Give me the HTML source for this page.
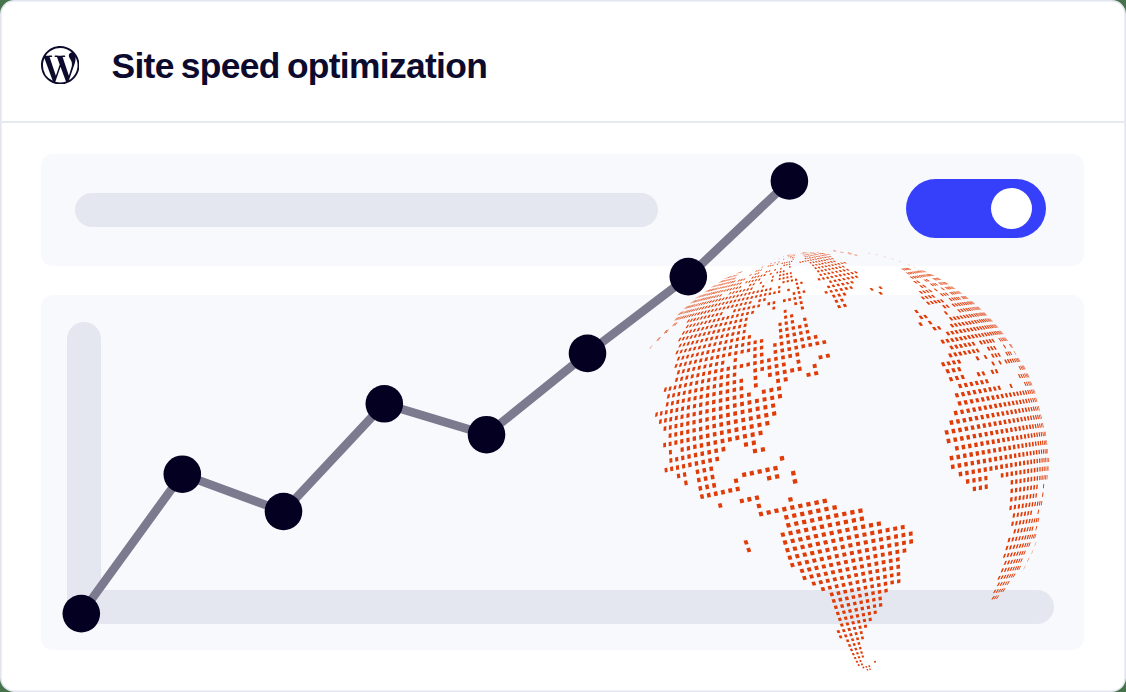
<!DOCTYPE html>
<html><head><meta charset="utf-8">
<style>
html,body{margin:0;padding:0;}
body{width:1126px;height:692px;overflow:hidden;background:#47734c;font-family:"Liberation Sans",sans-serif;position:relative;}
.abs{position:absolute;}
.divider{left:0;top:121px;width:1126px;height:2px;background:#e7e9f1;}
.panel{background:#f8f9fd;border-radius:12px;}
.bar{background:#e4e7f0;border-radius:17px;}
.title{left:111.5px;top:43.5px;font-size:35.4px;line-height:44px;font-weight:bold;color:#0d0b2d;white-space:nowrap;letter-spacing:-0.68px;word-spacing:-2px;}
</style></head>
<body>
<svg class="abs" style="left:0;top:0" width="1126" height="692" viewBox="0 0 1126 692"><rect x="0.8" y="0.8" width="1124.4" height="690.4" rx="13.4" fill="#fff" stroke="#e2e5ef" stroke-width="1.6"/></svg>
<svg class="abs" style="left:40.9px;top:45.7px" width="38.5" height="38.5" viewBox="0 0 24 24"><path fill="#0d0b2d" d="M21.469 6.825c.84 1.537 1.318 3.3 1.318 5.175 0 3.979-2.156 7.456-5.363 9.325l3.295-9.527c.615-1.54.82-2.771.82-3.864 0-.405-.026-.78-.07-1.11m-7.981.105c.647-.03 1.232-.105 1.232-.105.582-.075.514-.93-.067-.899 0 0-1.755.135-2.88.135-1.064 0-2.85-.15-2.85-.15-.585-.03-.661.855-.075.885 0 0 .54.061 1.125.09l1.68 4.605-2.37 7.08L5.354 6.9c.649-.03 1.234-.1 1.234-.1.585-.075.516-.93-.065-.896 0 0-1.746.138-2.874.138-.2 0-.438-.008-.69-.015C4.911 3.15 8.235 1.215 12 1.215c2.809 0 5.365 1.072 7.286 2.833-.046-.003-.091-.009-.141-.009-1.06 0-1.812.923-1.812 1.914 0 .89.513 1.643 1.06 2.531.411.72.89 1.643.89 2.977 0 .915-.354 1.994-.821 3.479l-1.075 3.585-3.9-11.61zM12 22.784c-1.059 0-2.081-.153-3.048-.437l3.237-9.406 3.315 9.087q.036.078.078.149c-1.12.393-2.325.609-3.582.609M1.211 12c0-1.564.336-3.05.935-4.39L7.290 21.709A10.790 10.790 0 0 1 1.211 12M12 0C5.385 0 0 5.385 0 12s5.385 12 12 12 12-5.385 12-12S18.615 0 12 0"/></svg>
<div class="abs title">Site speed optimization</div>
<div class="abs divider"></div>
<div class="abs panel" style="left:41px;top:154px;width:1043px;height:112px"></div>
<div class="abs bar" style="left:74.5px;top:193px;width:583.5px;height:34px"></div>
<div class="abs" style="left:906px;top:179px;width:139.5px;height:58.5px;border-radius:30px;background:#3640fb"></div>
<div class="abs" style="left:990.7px;top:188.2px;width:41px;height:41px;border-radius:50%;background:#fff"></div>
<div class="abs panel" style="left:41px;top:295px;width:1043px;height:355.3px"></div>
<div class="abs bar" style="left:67px;top:321.6px;width:34px;height:302px"></div>
<div class="abs bar" style="left:67px;top:590px;width:987px;height:33.6px"></div>
<svg class="abs" style="left:0;top:0" width="1126" height="692" viewBox="0 0 1126 692">
<polyline fill="none" stroke="#7b7a8f" stroke-width="8.6" stroke-linejoin="round" points="81.3,613.6 182.3,474.2 283.5,511.5 384.3,403.8 486.5,434.7 587.5,353.4 688.3,276.6 789.4,181"/>
<g fill="#040021">
<circle cx="81.3" cy="613.6" r="18.8"/><circle cx="182.3" cy="474.2" r="18.8"/><circle cx="283.5" cy="511.5" r="18.8"/><circle cx="384.3" cy="403.8" r="18.8"/><circle cx="486.5" cy="434.7" r="18.8"/><circle cx="587.5" cy="353.4" r="18.8"/><circle cx="688.3" cy="276.6" r="18.8"/><circle cx="789.4" cy="181" r="18.8"/>
</g>
<path d="M833 250.2l3.2 .7M840.3 251.9l3.2 .7M847.8 253.5l3.4 .8M854.6 255.1l2.8 .7" stroke="#e03c08" stroke-width="0.7" opacity=".55" fill="none"/>
<path d="M868 253l2.4 .5M875.3 254.5l2.4 .6M883.8 256.5l2.4 .7M891.2 258.5l2.4 .8M898.8 261.1l2.4 .9M907.8 264.2l2.4 1M913.6 267l2 .9" stroke="#e03c08" stroke-width="0.6" opacity=".3" fill="none"/>
<path id="globe" fill="#e03c08" d="M779.5 456.6L783.7 455.8L784.5 460.1L780.3 460.9ZM741.8 473.0L745.8 472.1L746.6 476.5L742.6 477.3ZM749.4 471.4L753.4 470.5L754.3 474.9L750.2 475.7ZM757.2 469.8L761.3 468.9L762.1 473.2L758.0 474.1ZM765.1 468.1L769.2 467.3L770.0 471.6L765.9 472.5ZM773.0 466.5L777.2 465.7L778.0 470.0L773.8 470.8ZM766.6 476.4L770.8 475.5L771.6 479.8L767.5 480.7ZM774.6 474.7L778.8 473.9L779.6 478.2L775.5 479.1ZM790.8 471.4L795.0 470.6L795.9 474.9L791.6 475.8ZM792.4 479.7L796.7 478.8L797.6 483.1L793.3 484.0ZM717.9 503.7L721.5 503.0L722.6 507.2L718.9 508.0ZM739.4 499.2L743.3 498.4L744.3 502.6L740.4 503.5ZM746.9 497.6L750.8 496.8L751.8 501.1L747.9 501.9ZM754.5 496.0L758.5 495.2L759.5 499.5L755.5 500.3ZM756.4 504.2L760.4 503.4L761.5 507.6L757.5 508.4ZM787.9 497.7L792.1 496.9L793.0 501.1L788.9 502.0ZM758.5 512.3L762.4 511.5L763.5 515.7L759.6 516.5ZM766.1 510.7L770.2 509.9L771.2 514.1L767.2 514.9ZM773.9 509.1L778.0 508.2L779.0 512.5L775.0 513.3ZM781.8 507.5L785.9 506.6L786.9 510.9L782.8 511.7ZM789.8 505.8L793.9 505.0L794.9 509.2L790.8 510.1ZM797.8 504.2L802.0 503.4L802.9 507.6L798.8 508.5ZM805.9 502.6L810.1 501.7L811.0 506.0L806.8 506.8ZM814.0 500.9L818.3 500.1L819.2 504.3L814.9 505.2ZM822.2 499.3L826.5 498.4L827.3 502.7L823.1 503.5ZM783.8 515.5L787.9 514.7L788.9 518.9L784.9 519.7ZM791.7 513.9L795.8 513.1L796.8 517.3L792.7 518.1ZM799.7 512.3L803.8 511.4L804.8 515.7L800.7 516.5ZM807.7 510.7L811.9 509.8L812.9 514.0L808.7 514.9ZM815.8 509.0L820.0 508.2L820.9 512.4L816.7 513.3ZM823.9 507.4L828.1 506.6L829.0 510.8L824.8 511.6ZM832.1 505.8L836.3 504.9L837.2 509.2L832.9 510.0ZM785.8 523.5L789.9 522.7L791.0 526.9L787.0 527.7ZM793.7 521.9L797.8 521.1L798.8 525.3L794.8 526.1ZM801.6 520.3L805.7 519.5L806.7 523.7L802.6 524.5ZM809.6 518.7L813.7 517.9L814.7 522.0L810.6 522.9ZM817.6 517.1L821.8 516.2L822.7 520.4L818.5 521.3ZM825.7 515.5L829.8 514.6L830.7 518.8L826.6 519.7ZM833.7 513.8L837.9 513.0L838.8 517.2L834.6 518.1ZM841.8 512.2L846.0 511.4L846.8 515.6L842.7 516.4ZM849.9 510.6L854.1 509.8L854.9 514.0L850.7 514.9ZM858.0 509.0L862.2 508.2L862.9 512.4L858.7 513.3ZM743.5 540.7L747.2 539.9L748.6 544.0L744.9 544.7ZM780.3 533.0L784.3 532.2L785.4 536.3L781.5 537.1ZM788.0 531.4L792.0 530.6L793.1 534.7L789.1 535.6ZM795.7 529.9L799.8 529.0L800.9 533.2L796.8 534.0ZM803.6 528.3L807.7 527.4L808.7 531.6L804.6 532.4ZM811.5 526.7L815.6 525.8L816.6 530.0L812.5 530.8ZM819.4 525.1L823.6 524.2L824.5 528.4L820.4 529.2ZM827.4 523.5L831.5 522.6L832.4 526.8L828.3 527.6ZM835.4 521.9L839.6 521.0L840.4 525.2L836.3 526.0ZM843.4 520.3L847.6 519.4L848.4 523.6L844.2 524.4ZM851.4 518.7L855.6 517.8L856.3 522.0L852.2 522.9ZM859.4 517.1L863.6 516.3L864.3 520.5L860.2 521.3ZM746.2 548.4L749.9 547.6L751.3 551.6L747.7 552.4ZM782.6 540.8L786.5 540.0L787.7 544.1L783.8 544.9ZM790.2 539.3L794.1 538.4L795.3 542.5L791.3 543.3ZM797.8 537.7L801.9 536.9L803.0 540.9L799.0 541.8ZM805.6 536.1L809.6 535.3L810.7 539.4L806.7 540.2ZM813.4 534.5L817.5 533.7L818.5 537.8L814.4 538.6ZM821.3 532.9L825.3 532.1L826.3 536.2L822.2 537.0ZM829.1 531.4L833.2 530.5L834.1 534.7L830.1 535.5ZM837.0 529.8L841.2 529.0L842.0 533.1L837.9 533.9ZM845.0 528.2L849.1 527.4L849.9 531.5L845.8 532.3ZM852.9 526.6L857.0 525.8L857.7 530.0L853.7 530.8ZM860.8 525.1L864.9 524.3L865.6 528.4L861.5 529.2ZM868.7 523.5L872.8 522.7L873.4 526.9L869.3 527.7ZM876.5 522.0L880.6 521.2L881.2 525.4L877.1 526.2ZM784.9 548.5L788.8 547.7L790.0 551.7L786.2 552.5ZM792.4 547.0L796.4 546.2L797.5 550.2L793.6 551.0ZM800.0 545.4L804.0 544.6L805.1 548.6L801.2 549.4ZM807.6 543.9L811.6 543.1L812.7 547.1L808.7 547.9ZM815.4 542.3L819.4 541.5L820.4 545.5L816.4 546.3ZM823.1 540.7L827.1 539.9L828.1 544.0L824.1 544.8ZM830.9 539.2L834.9 538.4L835.8 542.4L831.8 543.2ZM838.7 537.6L842.8 536.8L843.6 540.9L839.6 541.7ZM846.5 536.1L850.6 535.3L851.4 539.3L847.3 540.1ZM854.3 534.5L858.4 533.7L859.1 537.8L855.1 538.6ZM862.1 533.0L866.2 532.2L866.8 536.3L862.8 537.1ZM869.9 531.4L874.0 530.6L874.6 534.8L870.6 535.6ZM877.7 529.9L881.7 529.1L882.2 533.3L878.2 534.0ZM885.4 528.4L889.3 527.6L889.8 531.8L885.9 532.6ZM893.0 526.9L897.0 526.2L897.4 530.3L893.5 531.1ZM900.6 525.5L904.5 524.7L904.8 528.9L901.0 529.6ZM787.4 556.1L791.2 555.3L792.4 559.2L788.6 560.0ZM794.7 554.6L798.6 553.8L799.8 557.7L796.0 558.5ZM802.2 553.0L806.1 552.2L807.3 556.2L803.4 557.0ZM809.7 551.5L813.7 550.7L814.8 554.7L810.8 555.5ZM817.3 550.0L821.3 549.2L822.3 553.1L818.4 553.9ZM825.0 548.4L829.0 547.6L829.9 551.6L826.0 552.4ZM832.6 546.9L836.6 546.1L837.5 550.1L833.6 550.9ZM840.3 545.4L844.3 544.6L845.2 548.6L841.2 549.4ZM848.0 543.8L852.0 543.0L852.8 547.0L848.8 547.8ZM855.7 542.3L859.7 541.5L860.4 545.5L856.5 546.3ZM863.4 540.8L867.4 540.0L868.1 544.0L864.1 544.8ZM871.1 539.3L875.1 538.5L875.6 542.5L871.7 543.3ZM878.7 537.8L882.7 537.0L883.2 541.1L879.3 541.8ZM886.3 536.3L890.2 535.5L890.7 539.6L886.8 540.4ZM893.9 534.8L897.7 534.1L898.1 538.2L894.3 538.9ZM901.3 533.4L905.2 532.6L905.5 536.8L901.7 537.5ZM908.7 532.0L912.5 531.2L912.7 535.4L909.0 536.1ZM789.8 563.5L793.6 562.8L794.9 566.6L791.2 567.4ZM797.1 562.0L800.9 561.3L802.1 565.1L798.4 565.9ZM804.5 560.5L808.3 559.8L809.5 563.6L805.6 564.4ZM811.9 559.0L815.7 558.2L816.8 562.1L813.0 562.9ZM819.3 557.5L823.2 556.7L824.2 560.6L820.4 561.4ZM826.8 556.0L830.8 555.2L831.7 559.1L827.8 559.9ZM834.4 554.5L838.3 553.7L839.2 557.6L835.3 558.4ZM842.0 553.0L845.9 552.2L846.7 556.1L842.8 556.9ZM849.5 551.5L853.5 550.7L854.2 554.6L850.3 555.4ZM857.1 550.0L861.1 549.2L861.7 553.2L857.8 553.9ZM864.7 548.5L868.6 547.7L869.2 551.7L865.3 552.4ZM872.2 547.0L876.1 546.2L876.7 550.2L872.8 551.0ZM879.7 545.5L883.6 544.7L884.1 548.8L880.2 549.5ZM887.2 544.1L891.1 543.3L891.4 547.3L887.6 548.1ZM894.6 542.6L898.4 541.9L898.7 545.9L895.0 546.7ZM901.9 541.2L905.7 540.5L906.0 544.5L902.2 545.3ZM909.2 539.8L912.9 539.1L913.1 543.2L909.4 543.9ZM799.5 569.4L803.3 568.6L804.5 572.4L800.8 573.1ZM806.7 567.9L810.5 567.1L811.7 570.9L808.0 571.7ZM814.0 566.4L817.8 565.6L818.9 569.5L815.2 570.2ZM821.4 564.9L825.2 564.2L826.2 568.0L822.4 568.8ZM828.7 563.4L832.6 562.7L833.5 566.5L829.7 567.3ZM836.1 561.9L840.0 561.2L840.9 565.0L837.1 565.8ZM843.6 560.5L847.4 559.7L848.2 563.6L844.4 564.3ZM851.0 559.0L854.9 558.2L855.6 562.1L851.8 562.9ZM858.5 557.5L862.3 556.7L863.0 560.7L859.1 561.4ZM865.9 556.0L869.7 555.3L870.3 559.2L866.5 560.0ZM873.3 554.6L877.1 553.8L877.6 557.8L873.8 558.5ZM880.7 553.1L884.5 552.4L884.9 556.3L881.1 557.1ZM888.0 551.7L891.8 551.0L892.1 554.9L888.4 555.7ZM895.3 550.3L899.0 549.6L899.3 553.6L895.6 554.3ZM902.5 548.9L906.2 548.2L906.4 552.2L902.7 552.9ZM802.0 576.5L805.7 575.8L806.9 579.5L803.3 580.2ZM809.1 575.1L812.8 574.3L814.0 578.1L810.3 578.8ZM816.2 573.6L819.9 572.9L821.0 576.6L817.3 577.4ZM823.4 572.2L827.1 571.4L828.2 575.2L824.5 575.9ZM830.6 570.7L834.4 570.0L835.3 573.7L831.6 574.5ZM837.9 569.3L841.7 568.5L842.5 572.3L838.8 573.1ZM845.2 567.8L849.0 567.1L849.7 570.9L846.0 571.6ZM852.5 566.4L856.2 565.6L857.0 569.4L853.2 570.2ZM859.8 564.9L863.5 564.2L864.2 568.0L860.4 568.7ZM867.0 563.5L870.8 562.7L871.3 566.6L867.6 567.3ZM874.3 562.0L878.1 561.3L878.5 565.2L874.8 565.9ZM881.5 560.6L885.3 559.9L885.6 563.8L881.9 564.5ZM888.7 559.2L892.4 558.5L892.7 562.4L889.0 563.1ZM895.8 557.9L899.5 557.1L899.7 561.1L896.1 561.8ZM811.4 582.1L815.0 581.4L816.2 585.0L812.7 585.8ZM818.4 580.7L822.0 580.0L823.2 583.6L819.6 584.4ZM825.4 579.3L829.1 578.6L830.1 582.2L826.5 583.0ZM832.5 577.9L836.2 577.1L837.1 580.8L833.5 581.6ZM839.6 576.4L843.3 575.7L844.2 579.4L840.5 580.1ZM846.7 575.0L850.4 574.3L851.2 578.0L847.6 578.7ZM853.9 573.6L857.6 572.9L858.3 576.6L854.6 577.3ZM861.0 572.2L864.7 571.5L865.3 575.2L861.6 575.9ZM868.1 570.8L871.8 570.1L872.3 573.8L868.7 574.5ZM875.2 569.4L878.9 568.7L879.3 572.5L875.7 573.2ZM882.3 568.0L886.0 567.3L886.3 571.1L882.7 571.8ZM889.3 566.6L893.0 565.9L893.2 569.8L889.6 570.4ZM896.3 565.3L899.9 564.6L900.1 568.4L896.5 569.1ZM820.6 587.6L824.2 586.9L825.3 590.5L821.8 591.2ZM827.5 586.3L831.1 585.5L832.1 589.1L828.6 589.8ZM834.4 584.9L838.0 584.1L838.9 587.7L835.4 588.4ZM841.3 583.5L844.9 582.7L845.8 586.4L842.2 587.1ZM848.3 582.1L851.9 581.4L852.7 585.0L849.1 585.7ZM855.3 580.7L858.9 580.0L859.5 583.6L856.0 584.3ZM862.2 579.3L865.8 578.6L866.4 582.3L862.8 583.0ZM869.2 577.9L872.8 577.2L873.3 580.9L869.7 581.6ZM876.1 576.6L879.7 575.9L880.1 579.6L876.5 580.3ZM883.0 575.2L886.6 574.5L886.9 578.2L883.4 578.9ZM889.9 573.9L893.4 573.2L893.6 576.9L890.1 577.6ZM896.7 572.6L900.2 571.9L900.3 575.6L896.8 576.3ZM829.5 593.0L833.0 592.3L834.1 595.8L830.6 596.5ZM836.3 591.7L839.8 591.0L840.7 594.5L837.3 595.2ZM843.0 590.3L846.6 589.6L847.4 593.1L843.9 593.8ZM849.8 589.0L853.3 588.2L854.1 591.8L850.6 592.5ZM856.6 587.6L860.1 586.9L860.8 590.5L857.3 591.2ZM863.4 586.3L866.9 585.6L867.4 589.1L864.0 589.8ZM870.2 584.9L873.7 584.2L874.1 587.8L870.7 588.5ZM876.9 583.6L880.4 582.9L880.8 586.5L877.3 587.2ZM883.6 582.3L887.1 581.6L887.4 585.2L883.9 585.9ZM890.3 581.0L893.8 580.3L893.9 584.0L890.5 584.6ZM897.0 579.7L900.4 579.0L900.4 582.7L897.1 583.4ZM831.6 599.6L835.0 598.9L836.0 602.3L832.7 603.0ZM838.2 598.3L841.6 597.6L842.5 601.0L839.1 601.7ZM844.7 597.0L848.1 596.3L849.0 599.7L845.6 600.4ZM851.3 595.7L854.7 595.0L855.5 598.4L852.1 599.1ZM857.9 594.3L861.3 593.7L862.0 597.1L858.6 597.8ZM864.5 593.0L867.9 592.4L868.4 595.8L865.1 596.5ZM871.1 591.7L874.5 591.1L874.9 594.6L871.6 595.2ZM877.7 590.4L881.1 589.8L881.4 593.3L878.0 594.0ZM884.2 589.2L887.6 588.5L887.8 592.0L884.5 592.7ZM833.7 606.0L837.0 605.3L838.0 608.6L834.8 609.3ZM840.0 604.7L843.3 604.1L844.2 607.4L841.0 608.0ZM846.4 603.4L849.7 602.8L850.5 606.1L847.3 606.8ZM852.8 602.2L856.1 601.5L856.8 604.8L853.5 605.5ZM859.2 600.9L862.5 600.2L863.1 603.6L859.8 604.2ZM865.6 599.6L868.9 599.0L869.4 602.4L866.1 603.0ZM872.0 598.4L875.3 597.7L875.6 601.1L872.4 601.8ZM878.3 597.1L881.6 596.5L881.9 599.9L878.7 600.5ZM835.7 612.2L838.9 611.5L839.9 614.7L836.8 615.3ZM841.9 611.0L845.1 610.3L846.0 613.5L842.8 614.1ZM848.0 609.7L851.2 609.1L852.0 612.3L848.9 612.9ZM854.2 608.5L857.4 607.8L858.1 611.1L855.0 611.7ZM860.4 607.2L863.6 606.6L864.2 609.9L861.0 610.5ZM866.6 606.0L869.8 605.4L870.3 608.7L867.1 609.3ZM872.8 604.8L876.0 604.2L876.3 607.5L873.2 608.1ZM878.9 603.6L882.1 603.0L882.4 606.3L879.2 606.9ZM837.8 618.2L840.9 617.5L841.9 620.6L838.9 621.2ZM843.7 617.0L846.8 616.3L847.7 619.4L844.7 620.0ZM849.7 615.8L852.8 615.2L853.5 618.3L850.5 618.9ZM855.6 614.6L858.7 614.0L859.4 617.1L856.3 617.7ZM861.6 613.4L864.7 612.8L865.2 615.9L862.2 616.5ZM867.6 612.2L870.7 611.6L871.1 614.8L868.1 615.4ZM873.5 611.0L876.6 610.4L876.9 613.6L873.9 614.2ZM839.8 623.9L842.8 623.3L843.8 626.3L840.9 626.8ZM845.5 622.8L848.5 622.2L849.4 625.1L846.5 625.7ZM851.3 621.6L854.2 621.0L855.0 624.0L852.1 624.6ZM857.0 620.5L860.0 619.9L860.6 622.9L857.7 623.5ZM862.7 619.3L865.7 618.7L866.2 621.8L863.3 622.3ZM868.5 618.2L871.5 617.6L871.9 620.7L868.9 621.2ZM836.5 630.5L839.3 630.0L840.4 632.7L837.6 633.3ZM841.9 629.4L844.7 628.9L845.7 631.7L842.9 632.2ZM847.3 628.3L850.2 627.8L851.1 630.6L848.3 631.2ZM852.8 627.2L855.7 626.7L856.4 629.5L853.6 630.1ZM858.3 626.1L861.2 625.6L861.8 628.4L859.0 629.0ZM863.8 625.0L866.7 624.5L867.2 627.4L864.4 627.9ZM838.7 635.8L841.4 635.2L842.5 637.9L839.9 638.4ZM843.9 634.7L846.6 634.2L847.6 636.9L845.0 637.4ZM849.1 633.7L851.8 633.1L852.7 635.8L850.0 636.4ZM854.4 632.6L857.1 632.1L857.8 634.8L855.2 635.3ZM859.6 631.6L862.3 631.0L862.9 633.8L860.3 634.3ZM845.9 639.7L848.5 639.2L849.4 641.8L846.9 642.3ZM850.9 638.7L853.5 638.2L854.3 640.8L851.8 641.3ZM855.9 637.7L858.5 637.2L859.2 639.8L856.6 640.3ZM860.9 636.7L863.5 636.2L864.0 638.9L861.5 639.4ZM847.9 644.5L850.3 644.0L851.3 646.4L848.9 646.9ZM852.6 643.6L855.0 643.1L855.9 645.5L853.5 646.0ZM857.3 642.6L859.8 642.1L860.5 644.6L858.1 645.1ZM849.8 649.0L852.1 648.6L853.1 650.9L850.9 651.3ZM854.3 648.1L856.6 647.7L857.4 650.0L855.2 650.4ZM858.8 647.2L861.1 646.8L861.7 649.1L859.5 649.6ZM851.8 653.3L853.9 652.9L854.9 655.0L852.8 655.4ZM855.9 652.5L858.1 652.0L858.9 654.2L856.8 654.6ZM860.1 651.6L862.3 651.2L863.0 653.4L860.9 653.8ZM853.7 657.3L855.7 656.9L856.6 658.8L854.7 659.2ZM857.6 656.5L859.6 656.1L860.4 658.1L858.4 658.5ZM861.5 655.7L863.5 655.3L864.1 657.3L862.2 657.7ZM855.5 661.0L857.4 660.6L858.3 662.4L856.5 662.8ZM859.2 660.2L861.0 659.9L861.8 661.7L860.0 662.1ZM857.4 664.4L859.1 664.0L860.0 665.7L858.3 666.0ZM860.7 663.7L862.4 663.3L863.1 665.1L861.5 665.4ZM874.1 661.0L875.9 660.7L876.0 662.5L874.3 662.8ZM862.2 666.9L863.8 666.6L864.5 668.1L863.0 668.4ZM865.3 666.3L866.8 665.9L867.4 667.5L865.9 667.8ZM868.3 665.6L869.9 665.3L870.3 667.0L868.8 667.3ZM866.4 669.2L867.8 668.9L868.4 670.4L867.0 670.6ZM869.2 668.6L870.6 668.4L871.0 669.8L869.6 670.1ZM787.3 255.1L787.7 255.0L787.3 255.4L786.9 255.5ZM788.0 254.9L788.3 254.8L788.2 255.2L787.7 255.3ZM788.7 254.8L789.0 254.7L789.0 255.0L788.6 255.1ZM789.4 254.6L789.7 254.6L789.9 254.9L789.4 254.9ZM790.0 254.5L790.4 254.4L790.7 254.7L790.3 254.8ZM790.7 254.4L791.1 254.3L791.6 254.5L791.1 254.6ZM775.3 258.2L775.7 258.1L773.5 259.1L773.0 259.2ZM783.6 256.5L784.1 256.4L783.3 257.0L782.7 257.2ZM787.5 255.7L788.0 255.6L787.9 256.1L787.3 256.2ZM788.5 255.5L789.1 255.4L789.1 255.9L788.5 256.0ZM789.5 255.3L790.1 255.2L790.3 255.6L789.7 255.8ZM790.5 255.1L791.1 255.0L791.4 255.4L790.8 255.5ZM791.6 254.9L792.1 254.8L792.6 255.2L792.0 255.3ZM792.6 254.7L793.1 254.6L793.8 254.9L793.2 255.1ZM793.5 254.5L794.1 254.4L794.9 254.7L794.3 254.8ZM794.5 254.3L795.0 254.2L796.1 254.5L795.5 254.6ZM779.3 258.4L780.0 258.2L778.9 259.1L778.2 259.3ZM788.5 256.5L789.1 256.4L789.2 257.0L788.4 257.2ZM789.8 256.3L790.5 256.1L790.7 256.7L789.9 256.9ZM791.1 256.0L791.8 255.9L792.2 256.4L791.4 256.6ZM792.4 255.7L793.1 255.6L793.7 256.1L792.9 256.3ZM793.8 255.5L794.4 255.3L795.2 255.8L794.4 256.0ZM783.5 258.8L784.4 258.7L784.0 259.6L783.0 259.8ZM790.1 257.5L790.9 257.4L791.2 258.1L790.3 258.3ZM791.8 257.2L792.6 257.0L793.0 257.8L792.1 258.0ZM793.4 256.9L794.2 256.7L794.8 257.4L793.9 257.6ZM771.3 263.0L772.2 262.8L770.9 264.1L769.9 264.3ZM775.0 262.3L775.9 262.1L774.9 263.3L773.9 263.5ZM778.8 261.5L779.7 261.3L779.1 262.4L778.0 262.6ZM792.4 258.7L793.4 258.5L793.9 259.4L792.8 259.7ZM739.1 272.0L739.6 271.9L736.2 273.8L735.6 273.9ZM740.2 271.8L740.7 271.6L737.4 273.5L736.8 273.7ZM741.3 271.5L741.9 271.4L738.7 273.2L738.0 273.4ZM742.5 271.2L743.2 271.1L740.0 272.9L739.3 273.1ZM762.4 266.8L763.5 266.6L761.8 268.1L760.7 268.4ZM768.6 265.6L769.7 265.3L768.4 266.8L767.3 267.0ZM770.7 265.1L771.8 264.9L770.7 266.3L769.6 266.5ZM772.9 264.7L774.0 264.4L773.1 265.8L771.9 266.0ZM777.3 263.8L778.4 263.5L777.8 264.8L776.6 265.1ZM781.8 262.9L783.0 262.6L782.6 263.9L781.4 264.1ZM784.1 262.4L785.2 262.2L785.1 263.4L783.8 263.6ZM786.3 261.9L787.5 261.7L787.5 262.9L786.3 263.1ZM788.6 261.5L789.8 261.2L790.0 262.4L788.7 262.6ZM790.9 261.0L792.1 260.8L792.4 261.9L791.2 262.1ZM727.8 276.9L728.2 276.8L724.5 279.0L724.1 279.1ZM728.6 276.7L729.0 276.6L725.4 278.7L724.9 278.9ZM729.4 276.5L729.9 276.4L726.3 278.5L725.8 278.6ZM730.3 276.3L730.8 276.1L727.4 278.2L726.8 278.4ZM731.4 276.0L731.9 275.9L728.5 277.9L727.9 278.1ZM732.5 275.7L733.1 275.6L729.8 277.6L729.1 277.8ZM733.7 275.5L734.4 275.3L731.1 277.3L730.4 277.5ZM735.0 275.1L735.7 275.0L732.5 277.0L731.8 277.2ZM736.4 274.8L737.1 274.6L734.1 276.6L733.3 276.8ZM737.9 274.5L738.7 274.3L735.7 276.3L734.8 276.5ZM756.8 270.3L757.9 270.1L756.1 271.8L754.9 272.1ZM759.0 269.9L760.2 269.6L758.6 271.3L757.3 271.5ZM761.3 269.4L762.5 269.1L761.0 270.8L759.8 271.0ZM783.6 264.8L784.9 264.5L784.8 265.9L783.4 266.2ZM786.2 264.3L787.5 264.0L787.6 265.3L786.2 265.6ZM788.8 263.8L790.1 263.5L790.3 264.8L788.9 265.1ZM799.2 261.7L800.5 261.4L801.3 262.6L799.9 262.9ZM801.8 261.2L803.1 260.9L804.1 262.1L802.7 262.4ZM721.6 280.9L722.1 280.7L718.6 283.0L718.1 283.1ZM722.6 280.6L723.1 280.5L719.6 282.7L719.1 282.9ZM723.6 280.3L724.2 280.2L720.8 282.4L720.2 282.6ZM724.8 280.1L725.4 279.9L722.1 282.1L721.4 282.3ZM726.0 279.8L726.7 279.6L723.5 281.8L722.7 282.0ZM727.4 279.4L728.1 279.3L724.9 281.4L724.2 281.6ZM728.9 279.1L729.6 278.9L726.5 281.1L725.7 281.2ZM730.4 278.7L731.3 278.5L728.2 280.7L727.4 280.9ZM732.1 278.3L733.0 278.1L730.0 280.3L729.1 280.5ZM733.8 277.9L734.8 277.7L731.9 279.8L730.9 280.0ZM735.7 277.5L736.6 277.3L733.9 279.4L732.9 279.6ZM750.8 274.2L752.0 274.0L750.2 275.8L748.9 276.1ZM755.8 273.2L757.1 272.9L755.5 274.7L754.1 275.0ZM758.3 272.6L759.7 272.3L758.2 274.1L756.8 274.4ZM766.3 271.0L767.7 270.7L766.7 272.4L765.2 272.7ZM769.1 270.4L770.5 270.1L769.6 271.8L768.1 272.1ZM774.7 269.2L776.1 269.0L775.6 270.6L774.0 270.9ZM780.4 268.1L781.8 267.8L781.6 269.3L780.0 269.7ZM789.0 266.3L790.5 266.0L790.8 267.5L789.2 267.8ZM714.0 285.5L714.4 285.4L711.0 287.8L710.5 287.9ZM714.9 285.3L715.4 285.1L712.0 287.5L711.4 287.7ZM715.9 285.0L716.5 284.8L713.1 287.2L712.5 287.4ZM717.1 284.7L717.7 284.5L714.4 286.9L713.7 287.1ZM718.4 284.4L719.1 284.2L715.8 286.6L715.1 286.7ZM719.8 284.0L720.5 283.9L717.3 286.2L716.5 286.4ZM721.3 283.7L722.1 283.5L719.0 285.8L718.1 286.0ZM722.9 283.3L723.7 283.1L720.7 285.4L719.8 285.6ZM724.6 282.9L725.5 282.7L722.6 285.0L721.6 285.2ZM726.4 282.5L727.4 282.3L724.5 284.5L723.5 284.7ZM728.3 282.0L729.4 281.8L726.6 284.0L725.6 284.3ZM730.4 281.6L731.5 281.3L728.8 283.6L727.7 283.8ZM732.5 281.1L733.6 280.9L731.1 283.0L729.9 283.3ZM734.7 280.6L735.9 280.4L733.5 282.5L732.2 282.8ZM739.4 279.6L740.7 279.3L738.5 281.4L737.2 281.7ZM741.9 279.0L743.2 278.8L741.1 280.9L739.8 281.1ZM744.5 278.5L745.8 278.2L743.9 280.3L742.5 280.6ZM752.6 276.8L754.0 276.5L752.5 278.4L751.0 278.8ZM755.4 276.2L756.9 275.9L755.5 277.8L753.9 278.1ZM758.3 275.6L759.8 275.3L758.5 277.2L757.0 277.5ZM761.3 275.0L762.8 274.6L761.7 276.5L760.1 276.9ZM764.2 274.3L765.8 274.0L764.8 275.9L763.2 276.2ZM770.4 273.1L771.9 272.7L771.3 274.5L769.6 274.9ZM776.6 271.8L778.2 271.5L777.9 273.2L776.2 273.5ZM779.8 271.2L781.4 270.8L781.2 272.5L779.5 272.9ZM783.0 270.5L784.6 270.2L784.5 271.9L782.8 272.2ZM707.3 290.2L707.8 290.1L704.4 292.6L703.9 292.8ZM708.3 289.9L708.9 289.8L705.6 292.3L705.0 292.5ZM709.5 289.6L710.1 289.5L706.8 292.0L706.1 292.2ZM710.7 289.3L711.4 289.2L708.2 291.7L707.5 291.8ZM712.1 289.0L712.9 288.8L709.7 291.3L708.9 291.5ZM713.6 288.6L714.5 288.4L711.4 290.9L710.5 291.1ZM715.3 288.2L716.2 288.0L713.1 290.5L712.2 290.7ZM717.0 287.8L718.0 287.6L715.1 290.0L714.1 290.3ZM718.9 287.4L719.9 287.1L717.1 289.5L716.0 289.8ZM720.9 286.9L722.0 286.7L719.2 289.1L718.1 289.3ZM723.0 286.4L724.2 286.2L721.5 288.5L720.3 288.8ZM725.3 285.9L726.4 285.7L723.9 288.0L722.6 288.3ZM727.6 285.4L728.8 285.1L726.3 287.5L725.1 287.7ZM730.0 284.9L731.3 284.6L728.9 286.9L727.6 287.2ZM732.5 284.3L733.9 284.0L731.6 286.3L730.2 286.6ZM735.2 283.7L736.5 283.4L734.4 285.7L733.0 286.0ZM737.9 283.1L739.3 282.8L737.3 285.1L735.8 285.4ZM740.7 282.5L742.1 282.2L740.2 284.4L738.7 284.8ZM746.5 281.3L748.0 281.0L746.4 283.1L744.8 283.5ZM749.5 280.7L751.1 280.3L749.6 282.4L748.0 282.8ZM752.6 280.0L754.2 279.7L752.9 281.8L751.2 282.1ZM755.8 279.3L757.4 279.0L756.2 281.1L754.5 281.4ZM759.0 278.7L760.7 278.3L759.6 280.4L757.9 280.7ZM772.4 275.9L774.1 275.6L773.6 277.5L771.8 277.9ZM779.2 274.5L781.0 274.2L780.9 276.0L779.0 276.4ZM782.7 273.8L784.5 273.5L784.5 275.3L782.6 275.7ZM786.2 273.1L788.0 272.8L788.2 274.5L786.3 274.9ZM789.7 272.4L791.5 272.1L791.8 273.8L790.0 274.2ZM698.5 295.9L698.8 295.8L695.4 298.5L695.1 298.6ZM699.1 295.7L699.5 295.6L696.2 298.3L695.7 298.4ZM699.9 295.5L700.4 295.3L697.1 298.0L696.6 298.2ZM700.9 295.2L701.4 295.0L698.1 297.7L697.5 297.9ZM701.9 294.9L702.5 294.7L699.3 297.4L698.7 297.6ZM703.2 294.6L703.8 294.4L700.7 297.1L700.0 297.2ZM704.5 294.2L705.3 294.0L702.2 296.7L701.4 296.9ZM706.0 293.8L706.9 293.6L703.8 296.3L702.9 296.5ZM707.7 293.4L708.6 293.2L705.6 295.8L704.7 296.1ZM709.5 293.0L710.4 292.8L707.5 295.4L706.5 295.6ZM711.4 292.6L712.4 292.3L709.6 294.9L708.5 295.2ZM713.4 292.1L714.5 291.8L711.8 294.4L710.6 294.7ZM715.6 291.6L716.7 291.3L714.1 293.9L712.9 294.1ZM717.9 291.1L719.1 290.8L716.5 293.3L715.2 293.6ZM720.3 290.5L721.6 290.2L719.1 292.7L717.8 293.0ZM722.8 290.0L724.1 289.7L721.8 292.1L720.4 292.4ZM725.4 289.4L726.8 289.1L724.6 291.5L723.1 291.8ZM728.2 288.8L729.6 288.5L727.5 290.9L726.0 291.2ZM731.0 288.2L732.5 287.8L730.5 290.2L728.9 290.6ZM734.0 287.5L735.5 287.2L733.6 289.6L732.0 289.9ZM737.0 286.9L738.6 286.5L736.8 288.9L735.1 289.2ZM740.1 286.2L741.7 285.9L740.1 288.2L738.4 288.5ZM749.9 284.1L751.7 283.7L750.4 286.0L748.6 286.4ZM753.4 283.4L755.1 283.0L754.0 285.2L752.2 285.6ZM760.4 281.9L762.2 281.6L761.4 283.7L759.5 284.1ZM771.3 279.7L773.2 279.3L772.8 281.4L770.8 281.8ZM778.8 278.2L780.7 277.8L780.6 279.8L778.6 280.2ZM782.6 277.4L784.5 277.0L784.5 279.0L782.5 279.4ZM786.4 276.6L788.3 276.3L788.5 278.2L786.5 278.6ZM790.2 275.9L792.1 275.5L792.4 277.4L790.4 277.8ZM693.6 300.7L694.1 300.6L690.8 303.4L690.3 303.5ZM694.6 300.4L695.2 300.3L692.0 303.1L691.4 303.2ZM695.7 300.1L696.4 299.9L693.3 302.7L692.6 302.9ZM697.1 299.7L697.8 299.6L694.7 302.4L694.0 302.6ZM698.5 299.4L699.3 299.2L696.3 302.0L695.5 302.2ZM700.2 299.0L701.0 298.8L698.1 301.5L697.2 301.7ZM701.9 298.5L702.9 298.3L700.0 301.1L699.0 301.3ZM703.8 298.1L704.9 297.8L702.1 300.6L701.0 300.8ZM705.9 297.6L707.0 297.3L704.3 300.0L703.1 300.3ZM708.1 297.1L709.3 296.8L706.6 299.5L705.4 299.8ZM710.4 296.5L711.7 296.3L709.1 298.9L707.8 299.2ZM712.9 296.0L714.2 295.7L711.7 298.3L710.4 298.6ZM715.5 295.4L716.8 295.1L714.5 297.7L713.0 298.0ZM718.2 294.8L719.6 294.5L717.3 297.1L715.8 297.4ZM721.0 294.2L722.5 293.8L720.3 296.4L718.8 296.8ZM730.2 292.2L731.8 291.8L730.0 294.3L728.3 294.7ZM733.4 291.5L735.2 291.1L733.4 293.6L731.7 294.0ZM736.8 290.7L738.6 290.4L737.0 292.8L735.1 293.2ZM740.3 290.0L742.0 289.6L740.6 292.1L738.7 292.5ZM743.8 289.3L745.6 288.9L744.3 291.3L742.4 291.7ZM747.4 288.5L749.3 288.1L748.1 290.5L746.1 290.9ZM751.1 287.7L753.0 287.3L751.9 289.7L749.9 290.1ZM762.5 285.4L764.5 284.9L763.9 287.2L761.8 287.6ZM782.5 281.3L784.6 280.9L784.6 283.0L782.5 283.4ZM786.6 280.5L788.7 280.1L788.9 282.1L786.7 282.6ZM790.7 279.7L792.8 279.2L793.1 281.3L791.0 281.7ZM794.8 278.8L796.9 278.4L797.4 280.5L795.2 280.9ZM686.5 306.5L687.0 306.3L683.8 309.3L683.4 309.5ZM687.4 306.2L688.0 306.0L684.8 309.0L684.3 309.2ZM688.5 305.9L689.1 305.7L686.1 308.7L685.4 308.8ZM689.7 305.6L690.5 305.4L687.4 308.3L686.7 308.5ZM691.2 305.2L691.9 305.0L689.0 307.9L688.2 308.1ZM692.7 304.8L693.6 304.6L690.7 307.5L689.8 307.7ZM694.5 304.3L695.4 304.1L692.6 307.0L691.6 307.3ZM696.4 303.9L697.4 303.6L694.6 306.5L693.5 306.8ZM698.4 303.4L699.5 303.1L696.8 306.0L695.7 306.3ZM700.6 302.9L701.8 302.6L699.1 305.4L697.9 305.7ZM703.0 302.3L704.2 302.0L701.6 304.9L700.4 305.2ZM705.4 301.8L706.8 301.5L704.3 304.3L702.9 304.6ZM708.1 301.2L709.5 300.8L707.1 303.6L705.6 304.0ZM710.8 300.5L712.3 300.2L710.0 303.0L708.5 303.3ZM713.7 299.9L715.3 299.5L713.1 302.3L711.5 302.6ZM716.8 299.2L718.4 298.9L716.3 301.6L714.6 301.9ZM719.9 298.5L721.6 298.2L719.6 300.9L717.9 301.2ZM723.2 297.8L724.9 297.4L723.0 300.1L721.3 300.5ZM726.6 297.1L728.3 296.7L726.6 299.3L724.7 299.7ZM730.1 296.3L731.9 295.9L730.2 298.6L728.3 299.0ZM733.6 295.6L735.5 295.2L734.0 297.8L732.1 298.2ZM737.3 294.8L739.3 294.4L737.8 296.9L735.9 297.4ZM741.1 294.0L743.1 293.6L741.8 296.1L739.8 296.5ZM745.0 293.2L747.0 292.7L745.8 295.3L743.8 295.7ZM748.9 292.3L750.9 291.9L749.9 294.4L747.8 294.8ZM752.9 291.5L755.0 291.1L754.1 293.5L752.0 294.0ZM757.0 290.7L759.1 290.2L758.4 292.7L756.2 293.1ZM761.1 289.8L763.3 289.4L762.7 291.8L760.5 292.2ZM765.3 288.9L767.5 288.5L767.0 290.9L764.8 291.3ZM769.6 288.1L771.7 287.6L771.4 290.0L769.2 290.4ZM778.2 286.3L780.4 285.9L780.3 288.2L778.0 288.6ZM795.6 282.8L797.8 282.4L798.4 284.6L796.1 285.0ZM800.0 282.0L802.2 281.5L802.9 283.7L800.6 284.1ZM680.5 312.2L681.0 312.1L678.0 315.2L677.5 315.3ZM681.5 311.9L682.1 311.8L679.1 314.9L678.5 315.0ZM682.6 311.6L683.3 311.4L680.3 314.5L679.7 314.7ZM684.0 311.3L684.7 311.1L681.8 314.1L681.0 314.3ZM685.5 310.9L686.3 310.6L683.4 313.7L682.6 313.9ZM687.1 310.4L688.1 310.2L685.3 313.2L684.3 313.5ZM689.0 310.0L690.0 309.7L687.3 312.7L686.2 313.0ZM691.0 309.5L692.1 309.2L689.4 312.2L688.3 312.5ZM693.2 309.0L694.4 308.7L691.7 311.7L690.5 312.0ZM695.5 308.4L696.8 308.1L694.2 311.1L692.9 311.4ZM698.0 307.8L699.3 307.5L696.9 310.5L695.5 310.8ZM700.7 307.2L702.1 306.9L699.7 309.8L698.2 310.2ZM703.5 306.6L704.9 306.2L702.6 309.2L701.1 309.5ZM706.4 305.9L708.0 305.6L705.8 308.5L704.2 308.8ZM709.5 305.2L711.1 304.9L709.0 307.7L707.3 308.1ZM712.7 304.5L714.4 304.1L712.4 307.0L710.6 307.4ZM716.0 303.8L717.8 303.4L715.9 306.2L714.1 306.6ZM719.5 303.0L721.3 302.6L719.5 305.4L717.7 305.8ZM723.1 302.2L725.0 301.8L723.3 304.6L721.4 305.0ZM726.8 301.4L728.8 301.0L727.2 303.8L725.2 304.2ZM730.6 300.6L732.6 300.2L731.2 302.9L729.1 303.4ZM734.6 299.8L736.6 299.4L735.3 302.1L733.2 302.5ZM738.6 298.9L740.7 298.5L739.4 301.2L737.3 301.6ZM742.7 298.1L744.8 297.6L743.7 300.3L741.5 300.7ZM746.9 297.2L749.0 296.7L748.1 299.4L745.8 299.8ZM751.1 296.3L753.3 295.9L752.5 298.5L750.2 298.9ZM755.5 295.4L757.7 294.9L757.0 297.5L754.7 298.0ZM759.9 294.5L762.1 294.0L761.6 296.6L759.2 297.1ZM764.3 293.6L766.6 293.1L766.2 295.6L763.8 296.1ZM768.8 292.7L771.1 292.2L770.9 294.7L768.5 295.2ZM773.4 291.7L775.7 291.3L775.6 293.7L773.2 294.2ZM778.0 290.8L780.3 290.3L780.3 292.8L777.9 293.3ZM787.2 289.0L789.6 288.5L789.9 290.9L787.4 291.3ZM796.5 287.1L798.9 286.6L799.4 288.9L797.0 289.4ZM677.0 317.6L677.7 317.4L674.9 320.6L674.2 320.8ZM678.4 317.2L679.2 317.0L676.4 320.2L675.6 320.4ZM680.0 316.8L680.9 316.5L678.1 319.7L677.2 319.9ZM681.8 316.3L682.7 316.1L680.1 319.2L679.1 319.5ZM683.7 315.8L684.8 315.6L682.2 318.7L681.1 319.0ZM685.9 315.3L687.0 315.0L684.4 318.2L683.2 318.4ZM688.2 314.8L689.4 314.5L686.9 317.6L685.6 317.9ZM690.6 314.2L692.0 313.9L689.5 317.0L688.2 317.3ZM693.3 313.6L694.7 313.2L692.3 316.3L690.9 316.6ZM696.1 312.9L697.6 312.6L695.3 315.6L693.7 316.0ZM699.0 312.2L700.6 311.9L698.4 314.9L696.8 315.3ZM702.1 311.5L703.8 311.2L701.7 314.2L700.0 314.6ZM705.4 310.8L707.1 310.4L705.1 313.4L703.3 313.8ZM708.8 310.1L710.6 309.7L708.7 312.6L706.8 313.0ZM712.3 309.3L714.2 308.9L712.4 311.8L710.5 312.2ZM716.0 308.5L717.9 308.1L716.2 311.0L714.3 311.4ZM719.8 307.7L721.8 307.2L720.2 310.1L718.2 310.6ZM723.7 306.8L725.8 306.4L724.3 309.3L722.2 309.7ZM727.8 305.9L729.9 305.5L728.5 308.4L726.3 308.8ZM731.9 305.1L734.1 304.6L732.8 307.4L730.6 307.9ZM736.2 304.2L738.4 303.7L737.2 306.5L735.0 307.0ZM740.5 303.2L742.8 302.8L741.7 305.6L739.4 306.0ZM744.9 302.3L747.2 301.8L746.3 304.6L744.0 305.1ZM749.4 301.4L751.8 300.9L751.0 303.6L748.6 304.1ZM758.7 299.5L761.1 299.0L760.6 301.7L758.1 302.2ZM763.4 298.5L765.8 298.0L765.5 300.7L763.0 301.2ZM792.5 292.6L795.0 292.1L795.5 294.6L792.9 295.1ZM797.5 291.6L800.0 291.1L800.6 293.6L798.0 294.1ZM802.4 290.7L804.9 290.2L805.6 292.6L803.0 293.1ZM674.8 322.9L675.7 322.7L673.1 326.0L672.1 326.2ZM676.6 322.4L677.6 322.2L675.1 325.4L674.0 325.7ZM688.7 319.5L690.2 319.2L688.0 322.4L686.4 322.7ZM691.7 318.8L693.2 318.5L691.1 321.7L689.5 322.0ZM694.8 318.1L696.4 317.8L694.4 320.9L692.7 321.3ZM698.1 317.4L699.8 317.0L697.8 320.1L696.0 320.5ZM701.5 316.6L703.3 316.2L701.4 319.3L699.5 319.8ZM705.1 315.8L707.0 315.4L705.2 318.5L703.2 318.9ZM708.8 315.0L710.8 314.6L709.1 317.7L707.1 318.1ZM712.7 314.2L714.7 313.7L713.1 316.8L711.0 317.2ZM716.7 313.3L718.8 312.9L717.3 315.9L715.1 316.3ZM720.8 312.4L723.0 312.0L721.6 315.0L719.4 315.4ZM733.9 309.6L736.2 309.1L735.2 312.1L732.8 312.6ZM738.5 308.7L740.9 308.2L739.9 311.1L737.5 311.6ZM743.1 307.7L745.6 307.2L744.7 310.1L742.3 310.6ZM747.9 306.7L750.4 306.2L749.7 309.1L747.1 309.6ZM752.7 305.7L755.2 305.2L754.7 308.0L752.1 308.5ZM757.6 304.7L760.2 304.2L759.7 307.0L757.1 307.5ZM767.6 302.6L770.2 302.1L770.0 304.9L767.4 305.4ZM772.7 301.6L775.3 301.1L775.2 303.8L772.6 304.4ZM782.9 299.5L785.6 299.0L785.8 301.7L783.1 302.2ZM788.1 298.5L790.7 298.0L791.1 300.6L788.4 301.2ZM793.3 297.5L795.9 296.9L796.4 299.6L793.7 300.1ZM798.5 296.4L801.1 295.9L801.7 298.5L799.0 299.0ZM666.4 330.1L667.2 329.9L664.6 333.4L663.8 333.6ZM668.0 329.7L668.9 329.5L666.3 332.9L665.4 333.1ZM687.5 325.0L689.1 324.6L687.1 327.9L685.4 328.3ZM690.8 324.3L692.5 323.9L690.5 327.1L688.7 327.5ZM694.2 323.5L696.0 323.1L694.1 326.3L692.3 326.7ZM697.8 322.7L699.7 322.3L697.9 325.5L696.0 325.9ZM701.6 321.8L703.5 321.4L701.8 324.6L699.8 325.1ZM705.5 321.0L707.5 320.5L705.9 323.7L703.8 324.2ZM709.5 320.1L711.7 319.6L710.1 322.8L708.0 323.3ZM713.7 319.2L715.9 318.7L714.5 321.9L712.3 322.4ZM718.1 318.3L720.3 317.8L719.0 320.9L716.7 321.4ZM722.5 317.3L724.9 316.8L723.6 319.9L721.3 320.4ZM727.1 316.3L729.5 315.8L728.4 318.9L726.0 319.4ZM731.8 315.3L734.2 314.8L733.2 317.9L730.8 318.4ZM736.6 314.3L739.1 313.8L738.2 316.8L735.7 317.4ZM741.5 313.3L744.0 312.8L743.3 315.8L740.7 316.3ZM746.5 312.3L749.1 311.7L748.4 314.7L745.8 315.3ZM751.5 311.2L754.2 310.7L753.6 313.6L751.0 314.2ZM772.5 306.9L775.2 306.4L775.2 309.2L772.4 309.8ZM794.1 302.6L796.8 302.0L797.3 304.8L794.5 305.3ZM799.5 301.5L802.3 300.9L802.9 303.7L800.1 304.2ZM658.9 337.5L659.5 337.3L657.0 340.9L656.4 341.0ZM660.1 337.1L660.8 337.0L658.3 340.5L657.6 340.7ZM683.5 331.4L685.3 331.0L683.3 334.4L681.5 334.8ZM686.9 330.6L688.8 330.2L686.9 333.6L685.0 334.0ZM690.5 329.8L692.4 329.4L690.7 332.7L688.7 333.2ZM694.3 328.9L696.3 328.5L694.6 331.8L692.6 332.3ZM698.2 328.1L700.3 327.6L698.7 330.9L696.6 331.4ZM702.3 327.2L704.5 326.7L703.0 330.0L700.8 330.5ZM706.6 326.2L708.8 325.8L707.4 329.1L705.1 329.5ZM711.0 325.3L713.3 324.8L711.9 328.1L709.6 328.6ZM715.5 324.3L717.9 323.8L716.6 327.1L714.2 327.6ZM720.1 323.3L722.6 322.8L721.5 326.0L719.0 326.6ZM724.9 322.3L727.4 321.8L726.4 325.0L723.9 325.5ZM729.8 321.3L732.4 320.7L731.5 323.9L728.9 324.5ZM734.8 320.2L737.4 319.7L736.7 322.8L734.0 323.4ZM740.0 319.1L742.6 318.6L741.9 321.7L739.2 322.3ZM745.2 318.1L747.9 317.5L747.3 320.6L744.5 321.2ZM783.6 310.2L786.5 309.6L786.7 312.6L783.8 313.1ZM800.6 306.8L803.5 306.2L804.2 309.1L801.2 309.7ZM651.9 345.2L652.1 345.1L649.7 348.7L649.4 348.8ZM652.4 344.9L652.8 344.8L650.3 348.5L650.0 348.6ZM679.8 338.0L681.6 337.5L679.8 341.0L677.9 341.5ZM683.3 337.1L685.2 336.7L683.5 340.2L681.6 340.6ZM687.1 336.3L689.1 335.9L687.4 339.3L685.4 339.8ZM691.0 335.4L693.1 335.0L691.5 338.4L689.4 338.9ZM695.1 334.5L697.3 334.0L695.8 337.5L693.6 338.0ZM699.4 333.6L701.6 333.1L700.2 336.5L697.9 337.0ZM703.8 332.6L706.1 332.1L704.8 335.5L702.4 336.0ZM708.4 331.6L710.8 331.1L709.5 334.5L707.1 335.0ZM713.1 330.6L715.5 330.1L714.4 333.4L711.9 334.0ZM717.9 329.6L720.5 329.0L719.4 332.4L716.8 332.9ZM722.9 328.5L725.5 328.0L724.6 331.3L721.9 331.8ZM728.0 327.4L730.7 326.9L729.9 330.1L727.1 330.7ZM733.2 326.3L736.0 325.8L735.2 329.0L732.5 329.6ZM738.6 325.2L741.3 324.6L740.7 327.9L737.9 328.5ZM744.0 324.1L746.8 323.5L746.3 326.7L743.4 327.3ZM784.0 315.9L787.0 315.3L787.3 318.3L784.3 319.0ZM789.9 314.7L792.9 314.1L793.4 317.1L790.3 317.7ZM680.0 343.9L681.9 343.4L680.3 347.0L678.3 347.5ZM683.9 343.0L685.9 342.5L684.4 346.1L682.3 346.6ZM687.9 342.1L690.1 341.6L688.6 345.2L686.4 345.7ZM692.2 341.1L694.4 340.7L693.0 344.2L690.7 344.7ZM696.6 340.2L698.9 339.7L697.6 343.2L695.2 343.7ZM701.2 339.2L703.6 338.7L702.4 342.1L699.9 342.7ZM705.9 338.1L708.4 337.6L707.3 341.1L704.8 341.6ZM710.8 337.1L713.4 336.5L712.4 340.0L709.8 340.6ZM715.9 336.0L718.5 335.5L717.6 338.9L714.9 339.5ZM721.1 334.9L723.8 334.3L722.9 337.8L720.2 338.3ZM726.4 333.8L729.1 333.2L728.4 336.6L725.6 337.2ZM731.8 332.6L734.6 332.1L734.0 335.4L731.1 336.0ZM737.3 331.5L740.2 330.9L739.7 334.2L736.7 334.8ZM743.0 330.3L745.9 329.7L745.4 333.0L742.5 333.6ZM778.4 323.0L781.5 322.4L781.8 325.6L778.6 326.2ZM784.5 321.8L787.6 321.2L788.0 324.4L784.8 325.0ZM790.6 320.6L793.8 320.0L794.2 323.1L791.0 323.7ZM802.9 318.1L806.1 317.5L806.8 320.6L803.6 321.2ZM676.8 350.8L678.9 350.3L677.3 354.0L675.3 354.5ZM680.8 349.9L683.0 349.4L681.5 353.1L679.4 353.6ZM685.1 349.0L687.3 348.5L685.9 352.1L683.7 352.6ZM689.5 348.0L691.8 347.5L690.5 351.1L688.1 351.6ZM694.0 347.0L696.5 346.4L695.2 350.1L692.8 350.6ZM698.8 345.9L701.3 345.4L700.2 349.0L697.6 349.5ZM703.7 344.9L706.3 344.3L705.3 347.9L702.6 348.4ZM708.8 343.8L711.4 343.2L710.5 346.8L707.8 347.3ZM714.0 342.7L716.7 342.1L715.9 345.6L713.1 346.2ZM719.4 341.5L722.2 340.9L721.4 344.4L718.6 345.0ZM724.9 340.4L727.7 339.8L727.1 343.2L724.2 343.9ZM730.5 339.2L733.4 338.6L732.8 342.0L729.9 342.7ZM736.2 338.0L739.2 337.3L738.7 340.8L735.7 341.4ZM742.1 336.8L745.1 336.1L744.7 339.6L741.6 340.2ZM748.0 335.5L751.1 334.9L750.8 338.3L747.7 338.9ZM778.8 329.2L782.0 328.6L782.3 331.9L779.0 332.5ZM785.1 328.0L788.3 327.3L788.7 330.6L785.4 331.2ZM791.4 326.7L794.7 326.0L795.2 329.3L791.9 329.9ZM797.8 325.4L801.1 324.8L801.7 328.0L798.3 328.7ZM804.2 324.1L807.4 323.5L808.1 326.7L804.8 327.4ZM678.1 357.0L680.3 356.5L678.9 360.2L676.7 360.7ZM682.4 356.0L684.7 355.5L683.5 359.2L681.1 359.7ZM687.0 355.0L689.4 354.5L688.2 358.2L685.7 358.7ZM691.7 353.9L694.2 353.4L693.1 357.1L690.6 357.7ZM696.6 352.9L699.2 352.3L698.2 356.0L695.5 356.6ZM701.7 351.8L704.3 351.2L703.4 354.9L700.7 355.4ZM706.9 350.6L709.7 350.1L708.8 353.7L706.0 354.3ZM712.3 349.5L715.1 348.9L714.4 352.5L711.5 353.1ZM717.9 348.3L720.7 347.7L720.1 351.3L717.1 351.9ZM723.5 347.1L726.5 346.5L725.9 350.1L722.9 350.7ZM729.3 345.9L732.3 345.3L731.9 348.8L728.8 349.5ZM735.3 344.6L738.3 344.0L737.9 347.6L734.8 348.2ZM741.3 343.4L744.4 342.7L744.1 346.3L740.9 346.9ZM747.4 342.1L750.6 341.5L750.4 345.0L747.2 345.6ZM753.6 340.8L756.8 340.2L756.7 343.7L753.5 344.3ZM759.9 339.5L763.2 338.9L763.2 342.3L759.9 343.0ZM779.2 335.6L782.5 334.9L782.9 338.3L779.5 339.0ZM785.7 334.3L789.1 333.6L789.5 337.0L786.1 337.7ZM792.3 333.0L795.6 332.3L796.2 335.7L792.8 336.4ZM798.9 331.7L802.2 331.0L802.9 334.3L799.4 335.0ZM805.4 330.4L808.8 329.7L809.5 333.0L806.1 333.7ZM675.5 364.2L677.8 363.7L676.6 367.5L674.3 368.0ZM680.0 363.2L682.4 362.7L681.2 366.5L678.8 367.0ZM684.7 362.2L687.1 361.6L686.1 365.4L683.6 366.0ZM689.6 361.1L692.1 360.5L691.1 364.3L688.5 364.9ZM694.6 360.0L697.3 359.4L696.3 363.2L693.7 363.8ZM699.8 358.8L702.6 358.3L701.7 362.0L699.0 362.6ZM705.2 357.7L708.1 357.1L707.3 360.8L704.4 361.4ZM710.8 356.5L713.7 355.9L713.0 359.6L710.1 360.2ZM716.5 355.3L719.5 354.7L718.9 358.4L715.9 359.0ZM722.4 354.0L725.4 353.4L724.9 357.1L721.8 357.7ZM728.3 352.8L731.4 352.1L731.0 355.8L727.9 356.5ZM734.4 351.5L737.6 350.9L737.3 354.5L734.1 355.2ZM740.7 350.2L743.9 349.5L743.6 353.2L740.4 353.8ZM747.0 348.9L750.2 348.2L750.1 351.8L746.8 352.5ZM753.4 347.6L756.7 346.9L756.6 350.5L753.3 351.2ZM759.9 346.2L763.2 345.6L763.3 349.1L759.9 349.8ZM773.1 343.6L776.5 342.9L776.7 346.4L773.3 347.1ZM779.7 342.2L783.2 341.5L783.5 345.0L780.0 345.7ZM786.5 340.8L789.9 340.2L790.3 343.6L786.9 344.3ZM793.2 339.5L796.7 338.8L797.2 342.3L793.7 343.0ZM800.0 338.1L803.4 337.4L804.1 340.9L800.6 341.6ZM806.8 336.8L810.2 336.1L811.0 339.5L807.5 340.2ZM813.5 335.4L817.0 334.8L817.8 338.2L814.3 338.9ZM677.8 370.6L680.2 370.0L679.2 373.9L676.7 374.5ZM682.6 369.5L685.1 368.9L684.2 372.8L681.6 373.4ZM687.6 368.4L690.3 367.8L689.4 371.7L686.7 372.3ZM692.8 367.3L695.6 366.7L694.7 370.5L692.0 371.1ZM698.2 366.1L701.0 365.5L700.3 369.3L697.4 369.9ZM703.8 364.9L706.7 364.3L706.0 368.1L703.1 368.7ZM709.5 363.7L712.5 363.0L711.9 366.8L708.8 367.5ZM715.3 362.4L718.4 361.8L717.9 365.6L714.8 366.2ZM721.3 361.2L724.5 360.5L724.1 364.3L720.9 364.9ZM733.8 358.5L737.0 357.9L736.8 361.6L733.5 362.3ZM753.2 354.5L756.6 353.8L756.7 357.5L753.2 358.2ZM759.9 353.1L763.3 352.4L763.5 356.1L760.0 356.8ZM773.5 350.4L777.0 349.7L777.3 353.3L773.7 354.0ZM780.3 349.0L783.9 348.3L784.2 351.9L780.7 352.6ZM787.2 347.6L790.8 346.9L791.3 350.5L787.7 351.2ZM794.2 346.2L797.7 345.5L798.3 349.0L794.7 349.8ZM801.1 344.8L804.7 344.1L805.4 347.6L801.8 348.4ZM808.1 343.4L811.7 342.7L812.4 346.2L808.8 346.9ZM815.1 342.0L818.6 341.3L819.5 344.8L815.9 345.5ZM822.0 340.7L825.6 340.0L826.5 343.4L822.9 344.2ZM675.8 378.1L678.3 377.5L677.4 381.5L674.9 382.0ZM680.8 377.0L683.4 376.4L682.5 380.4L679.9 380.9ZM685.9 375.8L688.6 375.3L687.8 379.2L685.1 379.8ZM691.2 374.7L694.0 374.1L693.3 378.0L690.5 378.6ZM696.8 373.5L699.7 372.9L699.0 376.8L696.1 377.4ZM702.5 372.3L705.4 371.6L704.9 375.5L701.9 376.2ZM708.3 371.0L711.4 370.4L710.9 374.2L707.8 374.9ZM714.3 369.7L717.5 369.1L717.1 372.9L713.9 373.6ZM720.5 368.4L723.7 367.7L723.4 371.6L720.1 372.3ZM726.8 367.1L730.1 366.4L729.8 370.2L726.5 370.9ZM733.2 365.7L736.6 365.1L736.4 368.9L733.0 369.6ZM739.8 364.4L743.2 363.7L743.1 367.5L739.7 368.2ZM746.4 363.0L749.9 362.3L749.9 366.1L746.4 366.8ZM753.2 361.6L756.7 360.9L756.8 364.6L753.2 365.4ZM760.1 360.2L763.6 359.5L763.7 363.2L760.2 364.0ZM767.0 358.8L770.5 358.1L770.8 361.8L767.2 362.5ZM774.0 357.4L777.5 356.6L777.9 360.3L774.3 361.1ZM781.0 355.9L784.6 355.2L785.0 358.9L781.4 359.6ZM788.1 354.5L791.7 353.8L792.2 357.4L788.6 358.2ZM795.2 353.1L798.8 352.3L799.5 356.0L795.8 356.7ZM664.6 387.8L667.0 387.3L666.1 391.4L663.7 391.9ZM669.2 386.8L671.7 386.3L670.9 390.3L668.4 390.9ZM674.1 385.7L676.6 385.2L675.9 389.2L673.3 389.8ZM679.1 384.6L681.8 384.0L681.1 388.0L678.4 388.6ZM684.4 383.4L687.2 382.8L686.5 386.8L683.7 387.5ZM689.9 382.2L692.7 381.6L692.1 385.6L689.2 386.2ZM695.5 381.0L698.5 380.4L697.9 384.4L695.0 385.0ZM701.4 379.8L704.4 379.1L703.9 383.1L700.9 383.7ZM707.4 378.5L710.5 377.8L710.1 381.8L706.9 382.4ZM713.5 377.2L716.7 376.5L716.4 380.4L713.2 381.1ZM719.8 375.8L723.1 375.1L722.9 379.1L719.5 379.8ZM726.3 374.5L729.6 373.8L729.4 377.7L726.1 378.4ZM732.9 373.1L736.3 372.4L736.2 376.3L732.7 377.0ZM753.3 368.9L756.9 368.1L757.0 372.0L753.4 372.7ZM760.3 367.4L763.9 366.7L764.1 370.5L760.5 371.3ZM767.4 366.0L771.0 365.2L771.3 369.0L767.6 369.8ZM774.5 364.5L778.2 363.8L778.6 367.6L774.9 368.3ZM781.7 363.1L785.4 362.3L785.9 366.1L782.2 366.8ZM796.3 360.1L800.0 359.4L800.6 363.1L796.9 363.9ZM818.2 355.8L822.0 355.0L822.8 358.7L819.1 359.5ZM825.5 354.3L829.3 353.6L830.2 357.3L826.5 358.0ZM667.6 394.6L670.1 394.0L669.4 398.1L666.9 398.7ZM672.6 393.5L675.2 392.9L674.5 397.0L671.9 397.6ZM677.8 392.3L680.5 391.7L679.9 395.8L677.1 396.4ZM683.1 391.2L686.0 390.5L685.4 394.6L682.6 395.2ZM688.7 389.9L691.6 389.3L691.2 393.4L688.2 394.0ZM694.5 388.7L697.5 388.0L697.1 392.1L694.0 392.7ZM700.4 387.4L703.6 386.7L703.2 390.8L700.0 391.4ZM706.6 386.1L709.8 385.4L709.5 389.4L706.2 390.1ZM712.9 384.8L716.1 384.1L715.9 388.1L712.6 388.8ZM719.3 383.4L722.7 382.7L722.5 386.7L719.1 387.4ZM725.9 382.0L729.3 381.3L729.2 385.3L725.8 386.0ZM732.6 380.6L736.1 379.9L736.1 383.8L732.6 384.6ZM739.5 379.2L743.0 378.4L743.1 382.4L739.5 383.1ZM753.5 376.3L757.2 375.5L757.3 379.4L753.7 380.2ZM767.9 373.3L771.6 372.6L772.0 376.4L768.2 377.2ZM775.2 371.8L779.0 371.1L779.4 374.9L775.6 375.7ZM782.6 370.3L786.3 369.6L786.8 373.4L783.0 374.2ZM790.0 368.8L793.8 368.1L794.4 371.9L790.5 372.7ZM797.4 367.3L801.2 366.6L801.9 370.4L798.0 371.2ZM812.4 364.4L816.2 363.6L817.0 367.4L813.1 368.2ZM666.3 402.5L668.8 401.9L668.2 406.1L665.7 406.7ZM671.3 401.4L674.0 400.8L673.5 404.9L670.8 405.5ZM676.6 400.2L679.4 399.6L678.9 403.7L676.1 404.3ZM682.1 399.0L685.0 398.4L684.5 402.5L681.6 403.1ZM687.8 397.8L690.8 397.1L690.4 401.2L687.4 401.9ZM693.7 396.5L696.7 395.8L696.4 399.9L693.3 400.6ZM699.7 395.2L702.9 394.5L702.6 398.6L699.4 399.3ZM706.0 393.8L709.2 393.1L709.0 397.2L705.7 397.9ZM712.4 392.5L715.7 391.8L715.6 395.8L712.2 396.5ZM719.0 391.1L722.4 390.4L722.3 394.4L718.9 395.1ZM725.7 389.7L729.2 388.9L729.2 393.0L725.6 393.7ZM732.5 388.2L736.1 387.5L736.1 391.5L732.6 392.3ZM739.5 386.8L743.1 386.0L743.3 390.0L739.6 390.8ZM753.8 383.8L757.6 383.0L757.8 387.0L754.0 387.8ZM776.0 379.3L779.8 378.5L780.2 382.4L776.4 383.2ZM783.5 377.8L787.3 377.0L787.9 380.9L784.0 381.7ZM806.2 373.2L810.1 372.4L810.9 376.3L806.9 377.1ZM813.8 371.7L817.7 370.9L818.6 374.8L814.6 375.5ZM655.6 412.7L658.0 412.1L657.4 416.3L655.0 416.9ZM660.3 411.6L662.7 411.0L662.2 415.3L659.8 415.8ZM665.2 410.5L667.8 409.9L667.3 414.1L664.7 414.7ZM670.3 409.3L673.0 408.7L672.6 412.9L669.9 413.5ZM675.7 408.2L678.5 407.5L678.1 411.7L675.3 412.3ZM681.3 406.9L684.2 406.3L683.9 410.5L680.9 411.1ZM687.0 405.7L690.1 405.0L689.8 409.2L686.7 409.8ZM693.0 404.4L696.2 403.7L695.9 407.8L692.8 408.5ZM699.2 403.0L702.4 402.3L702.3 406.5L699.0 407.2ZM705.6 401.7L708.9 401.0L708.8 405.1L705.4 405.8ZM712.1 400.3L715.5 399.6L715.4 403.7L712.0 404.4ZM718.8 398.9L722.3 398.1L722.3 402.2L718.8 403.0ZM725.6 397.4L729.2 396.7L729.2 400.8L725.7 401.5ZM732.6 396.0L736.2 395.2L736.4 399.3L732.7 400.1ZM739.7 394.5L743.4 393.7L743.6 397.8L739.9 398.6ZM746.9 393.0L750.7 392.2L750.9 396.3L747.2 397.1ZM761.7 390.0L765.5 389.2L765.9 393.2L762.0 394.0ZM769.2 388.4L773.1 387.6L773.5 391.6L769.6 392.4ZM776.8 386.9L780.7 386.1L781.2 390.1L777.3 390.9ZM659.3 419.7L661.8 419.1L661.5 423.4L658.9 424.0ZM664.3 418.6L667.0 418.0L666.6 422.2L664.0 422.8ZM669.5 417.4L672.3 416.8L672.0 421.0L669.2 421.7ZM675.0 416.2L677.9 415.6L677.6 419.8L674.7 420.4ZM680.7 415.0L683.6 414.3L683.4 418.5L680.4 419.2ZM686.5 413.7L689.6 413.0L689.5 417.2L686.4 417.9ZM692.6 412.4L695.8 411.7L695.7 415.9L692.5 416.6ZM698.9 411.0L702.2 410.3L702.1 414.5L698.8 415.2ZM705.4 409.6L708.7 408.9L708.7 413.1L705.3 413.8ZM712.0 408.2L715.4 407.5L715.5 411.6L712.0 412.4ZM718.8 406.8L722.3 406.0L722.4 410.2L718.8 410.9ZM725.7 405.3L729.3 404.6L729.5 408.7L725.8 409.5ZM732.8 403.8L736.5 403.1L736.7 407.2L733.0 408.0ZM740.0 402.3L743.8 401.5L744.0 405.7L740.3 406.4ZM747.4 400.8L751.2 400.0L751.5 404.1L747.7 404.9ZM754.8 399.3L758.7 398.5L759.0 402.6L755.2 403.4ZM762.4 397.7L766.3 396.9L766.7 401.0L762.8 401.8ZM770.0 396.2L773.9 395.4L774.4 399.4L770.5 400.2ZM777.7 394.6L781.7 393.8L782.2 397.8L778.2 398.7ZM663.7 426.7L666.4 426.1L666.2 430.4L663.5 431.0ZM669.0 425.6L671.8 424.9L671.6 429.2L668.8 429.8ZM674.5 424.3L677.4 423.7L677.3 428.0L674.4 428.6ZM680.3 423.1L683.3 422.4L683.2 426.7L680.2 427.3ZM686.2 421.8L689.4 421.1L689.3 425.3L686.2 426.0ZM692.4 420.4L695.6 419.7L695.6 424.0L692.4 424.7ZM698.8 419.1L702.1 418.3L702.1 422.6L698.8 423.3ZM705.3 417.7L708.7 416.9L708.8 421.1L705.4 421.9ZM712.1 416.2L715.6 415.5L715.7 419.7L712.2 420.4ZM718.9 414.8L722.5 414.0L722.7 418.2L719.1 419.0ZM726.0 413.3L729.7 412.5L729.9 416.7L726.2 417.5ZM733.2 411.8L736.9 411.0L737.2 415.2L733.4 416.0ZM740.5 410.3L744.3 409.5L744.6 413.6L740.8 414.4ZM748.0 408.7L751.8 407.9L752.2 412.1L748.3 412.9ZM755.5 407.1L759.4 406.3L759.8 410.5L755.9 411.3ZM763.2 405.6L767.1 404.8L767.6 408.9L763.6 409.7ZM770.9 404.0L774.9 403.2L775.4 407.3L771.4 408.1ZM668.7 433.8L671.5 433.1L671.5 437.4L668.6 438.1ZM674.3 432.5L677.2 431.9L677.2 436.2L674.3 436.8ZM680.1 431.2L683.2 430.6L683.2 434.9L680.1 435.5ZM686.2 429.9L689.3 429.2L689.4 433.5L686.2 434.2ZM692.4 428.6L695.7 427.9L695.8 432.1L692.5 432.8ZM698.9 427.2L702.2 426.5L702.4 430.7L699.0 431.5ZM705.5 425.8L708.9 425.0L709.1 429.3L705.6 430.0ZM712.3 424.3L715.8 423.6L716.1 427.8L712.5 428.6ZM719.3 422.8L722.9 422.1L723.2 426.3L719.5 427.1ZM726.4 421.3L730.1 420.6L730.4 424.8L726.7 425.6ZM733.7 419.8L737.5 419.0L737.8 423.2L734.0 424.0ZM741.1 418.3L744.9 417.5L745.3 421.7L741.5 422.5ZM748.6 416.7L752.5 415.9L753.0 420.1L749.1 420.9ZM756.3 415.1L760.2 414.3L760.7 418.5L756.7 419.3ZM764.0 413.5L768.0 412.7L768.6 416.9L764.5 417.7ZM771.9 411.9L775.9 411.1L776.5 415.3L772.4 416.1ZM663.2 443.2L666.0 442.6L666.0 446.9L663.3 447.6ZM668.7 442.0L671.5 441.4L671.6 445.7L668.7 446.3ZM674.3 440.8L677.3 440.1L677.4 444.4L674.4 445.1ZM680.2 439.5L683.3 438.8L683.4 443.1L680.3 443.8ZM686.3 438.1L689.5 437.4L689.7 441.8L686.5 442.5ZM692.6 436.8L695.9 436.1L696.1 440.4L692.8 441.1ZM699.1 435.4L702.5 434.6L702.8 438.9L699.4 439.7ZM705.8 433.9L709.3 433.2L709.6 437.5L706.1 438.2ZM712.7 432.5L716.3 431.7L716.6 436.0L713.0 436.8ZM719.8 431.0L723.4 430.2L723.8 434.5L720.1 435.3ZM727.0 429.5L730.7 428.7L731.1 432.9L727.4 433.7ZM734.3 427.9L738.2 427.1L738.6 431.4L734.7 432.2ZM741.8 426.4L745.7 425.6L746.2 429.8L742.3 430.6ZM749.5 424.8L753.4 424.0L753.9 428.2L749.9 429.0ZM757.2 423.2L761.2 422.4L761.7 426.6L757.7 427.4ZM765.0 421.6L769.1 420.7L769.6 425.0L765.6 425.8ZM668.9 450.3L671.7 449.7L672.0 454.0L669.1 454.7ZM680.5 447.7L683.6 447.1L683.9 451.4L680.7 452.1ZM686.7 446.4L689.9 445.7L690.2 450.0L686.9 450.7ZM693.0 445.0L696.4 444.3L696.7 448.6L693.3 449.3ZM699.6 443.6L703.0 442.9L703.4 447.2L699.9 447.9ZM706.4 442.2L709.9 441.4L710.3 445.7L706.7 446.5ZM713.3 440.7L716.9 439.9L717.3 444.2L713.7 445.0ZM720.4 439.2L724.1 438.4L724.6 442.7L720.9 443.5ZM727.7 437.6L731.5 436.9L732.0 441.1L728.2 441.9ZM735.1 436.1L739.0 435.3L739.5 439.6L735.6 440.4ZM742.7 434.5L746.6 433.7L747.2 438.0L743.2 438.8ZM750.4 432.9L754.4 432.1L754.9 436.4L750.9 437.2ZM758.2 431.3L762.2 430.5L762.8 434.7L758.8 435.6ZM669.3 458.6L672.2 458.0L672.5 462.3L669.6 463.0ZM675.0 457.4L678.1 456.7L678.4 461.0L675.4 461.7ZM681.0 456.1L684.2 455.4L684.5 459.7L681.4 460.4ZM687.2 454.7L690.5 454.0L690.9 458.3L687.6 459.0ZM693.7 453.3L697.0 452.6L697.4 456.9L694.1 457.6ZM700.3 451.9L703.7 451.1L704.2 455.5L700.7 456.2ZM707.1 450.4L710.7 449.7L711.1 454.0L707.6 454.7ZM714.1 448.9L717.7 448.2L718.2 452.5L714.6 453.3ZM721.3 447.4L725.0 446.6L725.5 450.9L721.8 451.7ZM743.7 442.7L747.7 441.9L748.3 446.2L744.3 447.0ZM751.5 441.1L755.5 440.3L756.1 444.6L752.1 445.4ZM664.4 468.2L667.2 467.6L667.7 471.9L664.9 472.6ZM670.0 467.0L672.9 466.3L673.4 470.7L670.4 471.3ZM675.8 465.7L678.8 465.0L679.3 469.4L676.2 470.1ZM681.8 464.4L684.9 463.7L685.4 468.0L682.3 468.7ZM688.0 463.0L691.3 462.3L691.8 466.6L688.5 467.4ZM694.5 461.6L697.9 460.9L698.4 465.2L695.0 466.0ZM701.2 460.2L704.6 459.4L705.2 463.8L701.7 464.5ZM708.0 458.7L711.6 457.9L712.1 462.3L708.6 463.0ZM715.1 457.2L718.7 456.4L719.3 460.8L715.6 461.5ZM752.6 449.3L756.7 448.5L757.3 452.8L753.3 453.6ZM760.6 447.7L764.6 446.9L765.3 451.2L761.2 452.0ZM676.7 474.0L679.8 473.4L680.4 477.7L677.3 478.4ZM682.8 472.7L685.9 472.0L686.5 476.4L683.4 477.1ZM695.5 469.9L698.9 469.2L699.5 473.5L696.1 474.3ZM702.2 468.5L705.7 467.7L706.4 472.1L702.9 472.8ZM709.1 467.0L712.7 466.2L713.4 470.6L709.8 471.3ZM684.0 481.0L687.1 480.3L687.9 484.7L684.7 485.4ZM696.8 478.2L700.2 477.5L700.9 481.8L697.5 482.6ZM703.5 476.8L707.0 476.0L707.7 480.4L704.2 481.1ZM710.4 475.3L714.0 474.5L714.7 478.9L711.1 479.6ZM698.2 486.5L701.6 485.8L702.4 490.1L699.0 490.9ZM704.9 485.1L708.4 484.3L709.3 488.7L705.8 489.4ZM711.9 483.6L715.5 482.8L716.3 487.2L712.7 487.9ZM733.7 479.0L737.6 478.2L738.4 482.5L734.5 483.3ZM699.8 494.8L703.3 494.1L704.2 498.4L700.8 499.1ZM706.6 493.4L710.1 492.6L711.0 496.9L707.5 497.7ZM713.5 491.9L717.1 491.1L718.0 495.4L714.4 496.2ZM720.6 490.4L724.3 489.6L725.2 493.9L721.5 494.7ZM727.9 488.8L731.7 488.0L732.6 492.3L728.8 493.1ZM735.3 487.3L739.2 486.4L740.1 490.8L736.2 491.6ZM800.3 253.2L800.7 253.1L802.7 253.2L802.2 253.3ZM801.2 253.0L801.6 253.0L803.8 253.0L803.2 253.1ZM802.0 252.9L802.5 252.8L804.8 252.8L804.3 252.9ZM802.9 252.7L803.3 252.6L805.8 252.7L805.3 252.7ZM803.8 252.6L804.2 252.5L806.8 252.5L806.3 252.6ZM804.6 252.4L805.0 252.3L807.7 252.3L807.2 252.4ZM801.5 254.0L802.1 253.8L803.9 254.2L803.1 254.3ZM802.7 253.7L803.4 253.6L805.2 253.9L804.5 254.0ZM804.0 253.5L804.6 253.4L806.6 253.7L805.9 253.8ZM805.1 253.3L805.7 253.2L807.9 253.4L807.2 253.5ZM806.3 253.1L806.9 253.0L809.2 253.2L808.6 253.3ZM807.5 252.8L808.0 252.7L810.5 252.9L809.8 253.0ZM808.6 252.6L809.1 252.5L811.7 252.7L811.1 252.8ZM809.7 252.4L810.2 252.3L812.9 252.5L812.3 252.6ZM810.7 252.3L811.2 252.2L814.1 252.3L813.5 252.4ZM803.1 255.0L803.9 254.8L805.5 255.4L804.6 255.5ZM804.6 254.7L805.4 254.5L807.2 255.0L806.3 255.2ZM806.2 254.4L807.0 254.3L808.8 254.7L808.0 254.9ZM807.7 254.1L808.5 254.0L810.5 254.4L809.7 254.6ZM809.2 253.8L809.9 253.7L812.1 254.1L811.3 254.3ZM810.6 253.6L811.4 253.4L813.7 253.8L812.9 254.0ZM812.0 253.3L812.8 253.2L815.2 253.5L814.4 253.7ZM813.4 253.0L814.1 252.9L816.7 253.2L816.0 253.4ZM814.8 252.8L815.5 252.7L818.2 253.0L817.5 253.1ZM816.1 252.6L816.7 252.4L819.6 252.7L818.9 252.9ZM804.1 256.5L805.1 256.3L806.5 257.0L805.4 257.2ZM806.0 256.1L806.9 255.9L808.5 256.6L807.5 256.8ZM807.8 255.7L808.8 255.6L810.5 256.2L809.5 256.4ZM809.7 255.4L810.6 255.2L812.5 255.8L811.5 256.0ZM811.5 255.1L812.4 254.9L814.4 255.5L813.4 255.7ZM813.2 254.7L814.1 254.6L816.3 255.1L815.4 255.3ZM815.0 254.4L815.8 254.2L818.2 254.8L817.2 255.0ZM816.7 254.1L817.5 253.9L820.0 254.4L819.1 254.6ZM818.3 253.8L819.1 253.6L821.8 254.1L820.9 254.3ZM819.9 253.5L820.7 253.3L823.5 253.8L822.6 254.0ZM821.5 253.2L822.3 253.1L825.2 253.5L824.3 253.7ZM833.1 251.2L833.6 251.1L837.5 251.4L836.9 251.5ZM804.5 258.4L805.6 258.1L806.9 259.1L805.7 259.3ZM806.7 257.9L807.8 257.7L809.3 258.6L808.1 258.8ZM808.9 257.5L810.0 257.3L811.6 258.2L810.4 258.4ZM811.0 257.1L812.1 256.9L813.9 257.7L812.7 257.9ZM813.2 256.7L814.2 256.5L816.2 257.3L815.0 257.5ZM815.3 256.3L816.3 256.1L818.4 256.9L817.3 257.1ZM817.3 255.9L818.4 255.7L820.6 256.5L819.5 256.7ZM819.3 255.5L820.3 255.4L822.7 256.1L821.6 256.3ZM821.3 255.2L822.3 255.0L824.8 255.7L823.7 255.9ZM823.2 254.8L824.2 254.6L826.8 255.3L825.8 255.5ZM825.1 254.5L826.0 254.3L828.8 254.9L827.8 255.1ZM826.9 254.1L827.8 254.0L830.7 254.6L829.7 254.8ZM839.2 252.0L839.8 251.9L843.5 252.4L842.9 252.5ZM804.3 260.7L805.6 260.5L806.8 261.6L805.4 261.8ZM806.9 260.2L808.1 260.0L809.5 261.0L808.1 261.3ZM809.4 259.7L810.6 259.5L812.1 260.5L810.8 260.8ZM811.8 259.2L813.1 259.0L814.7 260.0L813.4 260.3ZM814.3 258.8L815.5 258.5L817.3 259.5L816.0 259.8ZM816.7 258.3L817.9 258.1L819.9 259.0L818.6 259.3ZM819.1 257.9L820.3 257.6L822.4 258.6L821.1 258.8ZM821.4 257.4L822.6 257.2L824.8 258.1L823.6 258.3ZM823.7 257.0L824.9 256.8L827.2 257.7L826.0 257.9ZM825.9 256.6L827.1 256.4L829.6 257.2L828.4 257.5ZM828.1 256.2L829.2 256.0L831.9 256.8L830.7 257.0ZM847.6 252.8L848.3 252.6L852.1 253.3L851.4 253.4ZM809.2 262.4L810.7 262.1L812.0 263.3L810.5 263.6ZM812.1 261.8L813.5 261.6L815.0 262.8L813.5 263.1ZM814.8 261.3L816.2 261.0L817.9 262.2L816.4 262.5ZM817.6 260.8L819.0 260.5L820.8 261.7L819.3 261.9ZM820.3 260.3L821.6 260.0L823.6 261.1L822.1 261.4ZM822.9 259.8L824.3 259.5L826.4 260.6L825.0 260.9ZM825.5 259.3L826.9 259.0L829.1 260.1L827.7 260.3ZM828.1 258.8L829.4 258.5L831.8 259.6L830.4 259.8ZM830.6 258.3L831.9 258.1L834.4 259.1L833.0 259.3ZM853.3 254.3L854.1 254.2L857.9 255.0L857.0 255.1ZM811.7 264.8L813.3 264.5L814.6 265.9L812.9 266.3ZM814.8 264.2L816.3 263.9L817.9 265.3L816.2 265.6ZM817.8 263.7L819.4 263.4L821.1 264.7L819.4 265.0ZM820.9 263.1L822.4 262.8L824.2 264.1L822.6 264.4ZM823.9 262.5L825.4 262.2L827.3 263.5L825.7 263.8ZM826.8 262.0L828.3 261.7L830.4 262.9L828.8 263.2ZM829.7 261.4L831.1 261.1L833.4 262.4L831.8 262.7ZM832.5 260.9L833.9 260.6L836.3 261.8L834.8 262.1ZM814.1 267.6L815.9 267.3L817.2 268.8L815.4 269.2ZM817.5 267.0L819.2 266.6L820.8 268.2L819.0 268.5ZM820.9 266.3L822.6 266.0L824.2 267.5L822.5 267.8ZM824.2 265.7L825.9 265.4L827.7 266.8L825.9 267.2ZM827.5 265.1L829.1 264.8L831.1 266.2L829.3 266.5ZM830.7 264.5L832.3 264.2L834.4 265.6L832.7 265.9ZM833.8 263.9L835.4 263.6L837.6 265.0L836.0 265.3ZM836.9 263.3L838.5 263.0L840.8 264.4L839.2 264.7ZM839.9 262.7L841.4 262.4L843.9 263.8L842.4 264.1ZM842.9 262.2L844.4 261.9L847.0 263.2L845.4 263.5ZM816.6 270.7L818.5 270.3L819.9 272.0L817.9 272.4ZM820.3 270.0L822.1 269.6L823.7 271.3L821.7 271.7ZM823.9 269.3L825.8 268.9L827.4 270.6L825.5 270.9ZM827.5 268.6L829.3 268.3L831.1 269.9L829.3 270.2ZM831.1 267.9L832.8 267.6L834.8 269.2L832.9 269.5ZM834.5 267.3L836.3 266.9L838.4 268.5L836.6 268.9ZM838.0 266.6L839.7 266.3L841.9 267.8L840.1 268.2ZM841.3 266.0L843.0 265.7L845.3 267.2L843.6 267.5ZM819.1 274.1L821.1 273.7L822.5 275.5L820.4 275.9ZM823.1 273.3L825.1 272.9L826.6 274.7L824.5 275.1ZM827.0 272.5L829.0 272.2L830.6 274.0L828.6 274.4ZM830.8 271.8L832.8 271.4L834.6 273.2L832.6 273.6ZM834.7 271.1L836.6 270.7L838.5 272.5L836.5 272.8ZM838.4 270.4L840.3 270.0L842.4 271.7L840.4 272.1ZM842.1 269.7L843.9 269.3L846.1 271.0L844.2 271.4ZM845.7 269.0L847.5 268.7L849.8 270.4L848.0 270.7ZM817.4 278.6L819.5 278.1L820.8 280.2L818.5 280.6ZM821.6 277.7L823.8 277.3L825.2 279.3L823.0 279.7ZM825.9 276.9L828.0 276.5L829.5 278.5L827.3 278.9ZM830.0 276.1L832.2 275.7L833.8 277.7L831.6 278.1ZM834.2 275.3L836.3 274.9L838.1 276.8L835.9 277.3ZM838.2 274.5L840.3 274.1L842.2 276.1L840.1 276.5ZM842.3 273.8L844.3 273.4L846.3 275.3L844.3 275.7ZM846.2 273.0L848.2 272.7L850.4 274.5L848.3 274.9ZM850.0 272.3L852.0 272.0L854.3 273.8L852.3 274.2ZM853.8 271.6L855.7 271.3L858.1 273.1L856.2 273.4ZM828.7 280.8L830.9 280.4L832.5 282.5L830.1 282.9ZM833.1 279.9L835.4 279.5L837.0 281.6L834.7 282.1ZM837.5 279.1L839.7 278.7L841.5 280.8L839.2 281.2ZM841.8 278.3L844.0 277.9L846.0 279.9L843.7 280.3ZM846.1 277.5L848.2 277.1L850.3 279.1L848.1 279.5ZM850.3 276.7L852.4 276.3L854.6 278.3L852.4 278.7ZM854.4 275.9L856.4 275.5L858.7 277.5L856.6 277.9ZM826.7 285.9L829.2 285.4L830.6 287.7L828.0 288.2ZM831.5 285.0L833.9 284.5L835.4 286.8L832.9 287.3ZM836.2 284.1L838.6 283.6L840.2 285.9L837.8 286.3ZM840.8 283.2L843.2 282.7L845.0 285.0L842.6 285.4ZM845.4 282.3L847.7 281.9L849.6 284.1L847.3 284.5ZM849.9 281.5L852.2 281.0L854.2 283.2L851.9 283.6ZM824.2 291.4L826.8 290.9L828.1 293.3L825.4 293.8ZM829.3 290.4L831.8 289.9L833.2 292.3L830.6 292.8ZM834.3 289.4L836.8 288.9L838.4 291.3L835.8 291.8ZM839.2 288.5L841.8 288.0L843.4 290.4L840.8 290.9ZM844.1 287.5L846.6 287.1L848.4 289.4L845.9 289.9ZM849.0 286.6L851.4 286.2L853.3 288.5L850.8 289.0ZM831.8 295.1L834.5 294.6L835.9 297.2L833.2 297.7ZM837.1 294.1L839.8 293.6L841.3 296.2L838.6 296.7ZM842.3 293.1L844.9 292.6L846.6 295.2L843.9 295.7ZM834.4 300.2L837.2 299.6L838.6 302.3L835.7 302.9ZM839.9 299.1L842.7 298.6L844.2 301.3L841.3 301.8ZM836.9 305.4L839.9 304.9L841.3 307.7L838.3 308.3ZM842.7 304.3L845.6 303.8L847.1 306.6L844.1 307.2ZM869.5 288.3L871.9 287.9L874.1 290.3L871.7 290.8ZM878.2 286.7L880.5 286.3L882.9 288.7L880.6 289.1ZM878.3 292.2L880.7 291.7L883.1 294.2L880.6 294.7ZM945.3 369.6L948.5 369.0L950.2 372.9L947.0 373.5ZM951.2 368.6L954.3 368.0L956.0 371.9L952.9 372.4ZM956.9 367.5L959.9 367.0L961.6 370.9L958.7 371.4ZM948.6 377.4L951.8 376.9L953.4 380.8L950.2 381.4ZM954.6 376.3L957.7 375.8L959.3 379.8L956.2 380.3ZM960.4 375.3L963.3 374.8L965.0 378.7L962.0 379.3ZM976.4 372.5L979.0 372.0L980.8 376.0L978.2 376.4ZM981.3 371.7L983.8 371.2L985.6 375.2L983.1 375.6ZM990.4 370.1L992.7 369.8L994.5 373.7L992.2 374.1ZM994.6 369.4L996.7 369.1L998.6 373.0L996.4 373.4ZM1018.4 366.0L1019.3 365.9L1021.3 369.8L1020.4 369.9ZM1020.1 365.8L1020.9 365.7L1022.9 369.6L1022.1 369.7ZM1021.5 365.7L1022.1 365.6L1024.2 369.5L1023.5 369.6ZM1022.6 365.6L1023.1 365.6L1025.1 369.5L1024.6 369.5ZM1023.5 365.6L1023.8 365.6L1025.8 369.6L1025.5 369.5ZM957.8 384.3L960.9 383.7L962.4 387.8L959.3 388.3ZM963.6 383.2L966.6 382.7L968.2 386.7L965.1 387.3ZM969.2 382.2L972.1 381.7L973.7 385.8L970.8 386.3ZM974.6 381.3L977.4 380.8L979.0 384.8L976.2 385.3ZM979.8 380.4L982.5 379.9L984.1 384.0L981.5 384.4ZM984.8 379.5L987.3 379.1L989.0 383.1L986.4 383.6ZM1018.0 374.3L1019.2 374.1L1021.0 378.1L1019.8 378.3ZM1020.3 374.0L1021.4 373.9L1023.2 377.9L1022.1 378.0ZM1022.3 373.8L1023.2 373.7L1025.1 377.7L1024.1 377.8ZM1024.0 373.6L1024.8 373.5L1026.7 377.5L1025.9 377.6ZM1025.4 373.5L1026.1 373.5L1027.9 377.4L1027.3 377.5ZM1026.6 373.4L1027.1 373.4L1028.9 377.4L1028.4 377.4ZM1027.4 373.4L1027.7 373.5L1029.6 377.5L1029.3 377.4ZM954.6 393.5L957.9 392.9L959.3 397.0L956.0 397.6ZM960.7 392.4L963.9 391.8L965.3 395.9L962.1 396.5ZM966.6 391.3L969.7 390.8L971.1 394.9L968.1 395.4ZM972.3 390.3L975.2 389.8L976.7 393.9L973.8 394.4ZM977.8 389.3L980.6 388.9L982.1 392.9L979.3 393.4ZM983.0 388.4L985.7 388.0L987.2 392.1L984.5 392.5ZM988.0 387.6L990.6 387.1L992.1 391.2L989.5 391.7ZM992.8 386.8L995.2 386.4L996.8 390.4L994.3 390.8ZM997.3 386.0L999.6 385.6L1001.2 389.7L998.9 390.1ZM1009.3 384.1L1011.2 383.8L1012.8 387.9L1010.9 388.1ZM1023.8 382.0L1024.9 381.9L1026.6 385.9L1025.5 386.1ZM1025.9 381.8L1026.8 381.7L1028.5 385.7L1027.5 385.8ZM1027.6 381.6L1028.4 381.5L1030.1 385.6L1029.3 385.6ZM1029.1 381.5L1029.7 381.4L1031.4 385.5L1030.7 385.5ZM1030.2 381.4L1030.7 381.4L1032.4 385.5L1031.9 385.5ZM957.3 401.7L960.6 401.1L961.9 405.2L958.6 405.8ZM963.5 400.6L966.7 400.0L968.0 404.2L964.8 404.7ZM969.4 399.5L972.5 399.0L973.8 403.1L970.8 403.7ZM975.2 398.5L978.1 398.0L979.5 402.1L976.5 402.6ZM980.7 397.5L983.5 397.0L984.9 401.2L982.0 401.7ZM986.0 396.6L988.6 396.1L990.0 400.3L987.3 400.8ZM991.0 395.7L993.6 395.3L995.0 399.4L992.4 399.9ZM995.8 394.9L998.2 394.5L999.7 398.7L997.2 399.1ZM1000.4 394.2L1002.7 393.8L1004.1 397.9L1001.8 398.3ZM1004.7 393.5L1006.8 393.1L1008.3 397.2L1006.1 397.6ZM1008.7 392.8L1010.7 392.5L1012.2 396.6L1010.1 396.9ZM1012.5 392.2L1014.3 391.9L1015.8 396.1L1013.9 396.3ZM1015.9 391.7L1017.7 391.4L1019.2 395.5L1017.4 395.8ZM1019.2 391.2L1020.7 391.0L1022.2 395.1L1020.6 395.3ZM1022.1 390.8L1023.5 390.6L1025.0 394.7L1023.6 394.9ZM1024.7 390.4L1026.0 390.3L1027.5 394.4L1026.2 394.5ZM1027.1 390.1L1028.2 390.0L1029.7 394.1L1028.6 394.2ZM1029.1 389.9L1030.1 389.8L1031.6 393.9L1030.7 394.0ZM1030.9 389.7L1031.7 389.6L1033.2 393.8L1032.4 393.8ZM1032.3 389.6L1033.0 389.5L1034.5 393.7L1033.9 393.7ZM1033.5 389.5L1034.0 389.5L1035.5 393.6L1035.0 393.6ZM953.5 411.2L956.9 410.5L958.0 414.7L954.6 415.4ZM959.9 410.0L963.1 409.4L964.3 413.6L961.0 414.2ZM966.0 408.9L969.2 408.3L970.4 412.5L967.2 413.1ZM972.0 407.8L975.1 407.3L976.3 411.5L973.2 412.0ZM977.8 406.8L980.7 406.3L982.0 410.5L979.0 411.0ZM983.3 405.8L986.2 405.3L987.4 409.5L984.6 410.0ZM988.6 404.9L991.4 404.4L992.6 408.6L989.9 409.1ZM993.7 404.0L996.3 403.6L997.6 407.8L995.0 408.2ZM998.5 403.2L1001.0 402.8L1002.3 407.0L999.8 407.4ZM1003.1 402.4L1005.4 402.1L1006.7 406.2L1004.4 406.6ZM1007.5 401.7L1009.6 401.4L1010.9 405.6L1008.7 405.9ZM1011.5 401.1L1013.5 400.7L1014.9 404.9L1012.8 405.3ZM1015.3 400.5L1017.2 400.2L1018.5 404.4L1016.6 404.7ZM1018.8 399.9L1020.6 399.7L1021.9 403.9L1020.1 404.1ZM1022.0 399.4L1023.6 399.2L1025.0 403.4L1023.4 403.6ZM1025.0 399.0L1026.4 398.8L1027.8 403.0L1026.3 403.2ZM1027.7 398.7L1028.9 398.5L1030.3 402.7L1029.0 402.8ZM1030.0 398.4L1031.1 398.2L1032.5 402.4L1031.4 402.5ZM1032.1 398.1L1033.1 398.0L1034.4 402.2L1033.4 402.3ZM1033.9 397.9L1034.7 397.9L1036.0 402.1L1035.2 402.1ZM1035.3 397.8L1036.0 397.8L1037.3 402.0L1036.7 402.0ZM949.2 420.8L952.7 420.1L953.7 424.4L950.2 425.0ZM955.8 419.6L959.2 419.0L960.2 423.2L956.8 423.8ZM962.2 418.4L965.5 417.8L966.5 422.1L963.2 422.7ZM968.4 417.3L971.6 416.7L972.7 421.0L969.4 421.5ZM974.4 416.2L977.5 415.7L978.6 419.9L975.5 420.5ZM980.2 415.2L983.1 414.7L984.2 418.9L981.3 419.4ZM985.7 414.2L988.6 413.7L989.7 418.0L986.8 418.5ZM991.1 413.3L993.8 412.8L994.9 417.1L992.2 417.5ZM996.2 412.4L998.8 412.0L999.9 416.2L997.3 416.6ZM1001.0 411.6L1003.5 411.2L1004.6 415.4L1002.2 415.8ZM1005.6 410.8L1008.0 410.4L1009.1 414.7L1006.8 415.1ZM1010.0 410.1L1012.2 409.7L1013.3 414.0L1011.1 414.3ZM1014.0 409.4L1016.1 409.1L1017.3 413.4L1015.2 413.7ZM1017.9 408.8L1019.8 408.5L1020.9 412.8L1019.0 413.1ZM1021.4 408.3L1023.1 408.0L1024.3 412.3L1022.6 412.5ZM1024.6 407.8L1026.2 407.6L1027.4 411.8L1025.8 412.0ZM1027.6 407.4L1029.0 407.2L1030.2 411.4L1028.8 411.6ZM1030.3 407.0L1031.6 406.9L1032.7 411.1L1031.4 411.3ZM1032.6 406.7L1033.8 406.6L1035.0 410.8L1033.8 411.0ZM1034.7 406.5L1035.7 406.4L1036.9 410.6L1035.9 410.7ZM1036.5 406.3L1037.3 406.2L1038.5 410.5L1037.7 410.5ZM1038.0 406.2L1038.6 406.1L1039.8 410.4L1039.2 410.4ZM944.4 430.5L948.0 429.9L949.0 434.2L945.4 434.8ZM951.2 429.3L954.7 428.6L955.7 432.9L952.2 433.6ZM957.8 428.1L961.2 427.4L962.2 431.7L958.8 432.4ZM964.2 426.9L967.6 426.3L968.5 430.6L965.2 431.2ZM970.5 425.8L973.7 425.2L974.7 429.5L971.4 430.1ZM976.5 424.7L979.6 424.1L980.6 428.4L977.5 429.0ZM982.3 423.7L985.3 423.1L986.3 427.4L983.3 428.0ZM987.9 422.7L990.7 422.2L991.7 426.5L988.9 427.0ZM993.2 421.8L996.0 421.3L997.0 425.6L994.2 426.0ZM998.4 420.9L1001.0 420.4L1002.0 424.7L999.3 425.2ZM1003.2 420.1L1005.7 419.6L1006.7 423.9L1004.2 424.3ZM1007.8 419.3L1010.2 418.9L1011.2 423.2L1008.8 423.6ZM1012.2 418.6L1014.4 418.2L1015.4 422.5L1013.2 422.8ZM1016.3 417.9L1018.3 417.6L1019.3 421.9L1017.3 422.2ZM1020.1 417.3L1022.0 417.0L1023.0 421.3L1021.1 421.6ZM1023.6 416.8L1025.4 416.5L1026.4 420.8L1024.7 421.0ZM1026.9 416.3L1028.5 416.0L1029.5 420.3L1027.9 420.6ZM1029.9 415.8L1031.3 415.6L1032.3 419.9L1030.9 420.1ZM1032.5 415.5L1033.8 415.3L1034.9 419.6L1033.6 419.8ZM1034.9 415.2L1036.1 415.0L1037.1 419.3L1036.0 419.5ZM1037.0 414.9L1038.0 414.8L1039.0 419.1L1038.0 419.2ZM1038.8 414.8L1039.6 414.7L1040.6 419.0L1039.8 419.0ZM1040.3 414.6L1040.9 414.6L1041.9 418.9L1041.3 418.9ZM946.3 439.1L949.9 438.4L950.8 442.7L947.1 443.4ZM953.1 437.8L956.6 437.2L957.5 441.5L953.9 442.1ZM959.7 436.6L963.1 436.0L964.0 440.3L960.5 440.9ZM966.1 435.4L969.4 434.8L970.3 439.2L967.0 439.8ZM972.4 434.3L975.6 433.7L976.4 438.1L973.2 438.6ZM978.4 433.2L981.5 432.7L982.3 437.0L979.2 437.6ZM984.2 432.2L987.2 431.7L988.0 436.0L985.1 436.5ZM989.8 431.2L992.7 430.7L993.5 435.0L990.6 435.5ZM995.1 430.3L997.9 429.8L998.7 434.1L996.0 434.6ZM1000.3 429.4L1002.9 429.0L1003.7 433.3L1001.1 433.7ZM1005.1 428.6L1007.6 428.2L1008.5 432.5L1006.0 432.9ZM1009.8 427.8L1012.1 427.4L1013.0 431.8L1010.6 432.1ZM1014.1 427.1L1016.3 426.7L1017.2 431.1L1015.0 431.4ZM1018.2 426.4L1020.3 426.1L1021.1 430.4L1019.1 430.8ZM1022.0 425.8L1024.0 425.5L1024.8 429.9L1022.9 430.2ZM1025.6 425.3L1027.3 425.0L1028.2 429.3L1026.4 429.6ZM1028.8 424.8L1030.5 424.6L1031.3 428.9L1029.7 429.1ZM1031.8 424.4L1033.3 424.2L1034.1 428.5L1032.7 428.7ZM1034.5 424.0L1035.8 423.9L1036.7 428.2L1035.4 428.3ZM1036.9 423.7L1038.0 423.6L1038.9 427.9L1037.7 428.0ZM1039.0 423.5L1040.0 423.4L1040.8 427.7L1039.8 427.8ZM1040.8 423.3L1041.6 423.2L1042.4 427.5L1041.6 427.6ZM1042.2 423.2L1042.9 423.1L1043.7 427.5L1043.1 427.5ZM954.7 446.4L958.3 445.8L959.0 450.1L955.5 450.7ZM961.3 445.2L964.8 444.6L965.5 448.9L962.1 449.5ZM967.8 444.0L971.1 443.4L971.8 447.8L968.5 448.4ZM974.0 442.9L977.2 442.3L978.0 446.7L974.7 447.2ZM980.0 441.8L983.1 441.3L983.9 445.6L980.8 446.2ZM985.8 440.8L988.8 440.3L989.6 444.6L986.6 445.1ZM991.4 439.8L994.3 439.3L995.0 443.7L992.2 444.2ZM996.8 438.9L999.5 438.4L1000.2 442.8L997.5 443.2ZM1001.9 438.0L1004.5 437.6L1005.2 441.9L1002.6 442.3ZM1006.8 437.2L1009.3 436.8L1010.0 441.1L1007.5 441.5ZM1011.4 436.4L1013.7 436.0L1014.5 440.4L1012.1 440.8ZM1015.8 435.7L1018.0 435.3L1018.7 439.7L1016.5 440.0ZM1019.9 435.0L1021.9 434.7L1022.6 439.0L1020.6 439.4ZM1023.7 434.4L1025.6 434.1L1026.3 438.5L1024.4 438.8ZM1027.2 433.9L1029.0 433.6L1029.7 438.0L1027.9 438.2ZM1030.5 433.4L1032.1 433.2L1032.8 437.5L1031.2 437.7ZM1033.4 433.0L1034.9 432.8L1035.6 437.1L1034.1 437.3ZM1036.1 432.6L1037.4 432.4L1038.1 436.8L1036.8 437.0ZM1038.5 432.3L1039.7 432.2L1040.3 436.5L1039.2 436.7ZM1040.6 432.1L1041.6 432.0L1042.3 436.3L1041.3 436.4ZM1042.4 431.9L1043.2 431.8L1043.9 436.2L1043.1 436.2ZM1043.9 431.8L1044.5 431.7L1045.2 436.1L1044.5 436.1ZM1045.0 431.7L1045.5 431.7L1046.2 436.0L1045.7 436.1ZM949.4 456.3L953.0 455.6L953.7 459.9L950.1 460.6ZM956.2 455.0L959.7 454.4L960.4 458.7L956.8 459.4ZM962.8 453.8L966.2 453.2L966.8 457.5L963.4 458.2ZM969.2 452.6L972.5 452.0L973.2 456.4L969.8 457.0ZM975.4 451.5L978.6 450.9L979.3 455.3L976.1 455.9ZM981.4 450.4L984.5 449.9L985.1 454.2L982.1 454.8ZM987.2 449.4L990.2 448.9L990.8 453.2L987.8 453.8ZM992.8 448.4L995.7 447.9L996.3 452.3L993.4 452.8ZM998.2 447.5L1000.9 447.0L1001.5 451.4L998.8 451.9ZM1003.3 446.6L1005.9 446.2L1006.5 450.5L1003.9 451.0ZM1008.1 445.8L1010.6 445.4L1011.2 449.7L1008.7 450.2ZM1012.7 445.0L1015.1 444.6L1015.6 449.0L1013.3 449.4ZM1017.1 444.3L1019.3 444.0L1019.8 448.3L1017.7 448.7ZM1021.2 443.7L1023.2 443.3L1023.8 447.7L1021.7 448.0ZM1025.0 443.1L1026.9 442.8L1027.4 447.1L1025.5 447.4ZM1028.5 442.5L1030.3 442.2L1030.8 446.6L1029.1 446.9ZM1031.8 442.0L1033.4 441.8L1033.9 446.2L1032.3 446.4ZM1034.7 441.6L1036.2 441.4L1036.7 445.8L1035.3 446.0ZM1037.4 441.2L1038.7 441.1L1039.2 445.4L1038.0 445.6ZM1039.8 440.9L1040.9 440.8L1041.5 445.2L1040.3 445.3ZM1041.9 440.7L1042.9 440.6L1043.4 445.0L1042.4 445.1ZM1043.7 440.5L1044.5 440.4L1045.0 444.8L1044.2 444.9ZM1045.1 440.4L1045.8 440.4L1046.3 444.7L1045.6 444.8ZM1046.3 440.3L1046.8 440.3L1047.3 444.7L1046.8 444.7ZM950.7 464.9L954.3 464.2L954.8 468.5L951.3 469.2ZM957.4 463.6L960.9 463.0L961.5 467.3L958.0 468.0ZM964.0 462.4L967.4 461.8L968.0 466.1L964.6 466.8ZM970.4 461.2L973.7 460.7L974.2 465.0L970.9 465.6ZM976.6 460.1L979.8 459.6L980.3 463.9L977.1 464.5ZM982.6 459.1L985.7 458.5L986.2 462.9L983.1 463.4ZM988.4 458.0L991.3 457.5L991.8 461.9L988.9 462.4ZM993.9 457.1L996.8 456.6L997.2 460.9L994.4 461.4ZM999.3 456.1L1002.0 455.7L1002.4 460.0L999.7 460.5ZM1004.4 455.3L1007.0 454.8L1007.4 459.2L1004.8 459.6ZM1009.2 454.4L1011.7 454.0L1012.1 458.4L1009.6 458.8ZM1013.8 453.7L1016.1 453.3L1016.5 457.7L1014.2 458.0ZM1018.1 453.0L1020.3 452.6L1020.7 457.0L1018.5 457.3ZM1022.2 452.3L1024.2 452.0L1024.6 456.4L1022.6 456.7ZM1026.0 451.7L1027.9 451.4L1028.3 455.8L1026.4 456.1ZM1029.5 451.2L1031.3 450.9L1031.7 455.3L1029.9 455.5ZM1032.8 450.7L1034.4 450.4L1034.7 454.8L1033.1 455.1ZM1035.7 450.3L1037.2 450.1L1037.5 454.4L1036.1 454.6ZM1038.4 449.9L1039.7 449.7L1040.0 454.1L1038.7 454.3ZM1040.8 449.6L1041.9 449.5L1042.2 453.8L1041.1 454.0ZM1042.8 449.3L1043.8 449.2L1044.2 453.6L1043.2 453.7ZM1044.6 449.2L1045.4 449.1L1045.8 453.5L1044.9 453.6ZM1046.1 449.0L1046.7 449.0L1047.1 453.4L1046.4 453.4ZM1047.2 449.0L1047.7 449.0L1048.1 453.4L1047.6 453.4ZM958.5 472.2L962.0 471.6L962.4 475.9L959.0 476.6ZM965.0 471.0L968.4 470.4L968.9 474.8L965.5 475.4ZM971.4 469.9L974.7 469.3L975.1 473.6L971.8 474.2ZM977.6 468.7L980.7 468.2L981.1 472.5L978.0 473.1ZM983.5 467.7L986.6 467.1L987.0 471.5L983.9 472.0ZM989.3 466.7L992.2 466.1L992.6 470.5L989.6 471.0ZM994.8 465.7L997.6 465.2L998.0 469.6L995.1 470.1ZM1000.1 464.8L1002.8 464.3L1003.1 468.7L1000.4 469.1ZM1005.2 463.9L1007.7 463.5L1008.0 467.8L1005.5 468.3ZM1010.0 463.1L1012.4 462.7L1012.7 467.0L1010.3 467.5ZM1014.6 462.3L1016.9 461.9L1017.1 466.3L1014.8 466.7ZM1018.9 461.6L1021.0 461.2L1021.3 465.6L1019.1 466.0ZM1022.9 460.9L1025.0 460.6L1025.2 465.0L1023.2 465.3ZM1026.7 460.4L1028.6 460.1L1028.8 464.5L1026.9 464.7ZM1030.2 459.8L1031.9 459.6L1032.2 463.9L1030.4 464.2ZM1033.4 459.3L1035.0 459.1L1035.2 463.5L1033.6 463.7ZM1036.4 458.9L1037.8 458.7L1038.0 463.1L1036.6 463.3ZM1039.0 458.6L1040.3 458.4L1040.5 462.8L1039.2 462.9ZM1041.4 458.3L1042.5 458.1L1042.7 462.5L1041.6 462.6ZM1043.4 458.0L1044.4 457.9L1044.6 462.3L1043.6 462.4ZM1045.2 457.8L1046.0 457.8L1046.2 462.2L1045.4 462.2ZM1046.7 457.7L1047.3 457.7L1047.5 462.1L1046.8 462.1ZM1047.8 457.7L1048.3 457.7L1048.5 462.1L1048.0 462.1ZM1048.7 457.7L1049.0 457.7L1049.2 462.1L1048.8 462.1ZM965.8 479.6L969.2 479.0L969.5 483.3L966.2 483.9ZM972.2 478.4L975.4 477.8L975.7 482.2L972.5 482.8ZM978.3 477.3L981.4 476.8L981.7 481.1L978.6 481.7ZM984.2 476.3L987.3 475.7L987.5 480.1L984.5 480.6ZM1000.7 473.4L1003.4 472.9L1003.5 477.3L1000.9 477.8ZM1005.7 472.5L1008.3 472.1L1008.4 476.5L1005.9 476.9ZM1010.5 471.7L1012.9 471.3L1013.1 475.7L1010.6 476.1ZM1015.0 470.9L1017.3 470.6L1017.4 475.0L1015.2 475.3ZM1019.3 470.2L1021.5 469.9L1021.6 474.3L1019.4 474.6ZM1023.3 469.6L1025.4 469.3L1025.4 473.7L1023.4 474.0ZM1027.1 469.0L1029.0 468.7L1029.0 473.1L1027.2 473.4ZM1030.6 468.5L1032.3 468.2L1032.4 472.6L1030.6 472.9ZM1033.8 468.0L1035.4 467.8L1035.4 472.2L1033.8 472.4ZM1036.7 467.6L1038.1 467.4L1038.2 471.8L1036.7 472.0ZM1039.3 467.2L1040.6 467.0L1040.6 471.4L1039.4 471.6ZM1041.7 466.9L1042.8 466.8L1042.8 471.2L1041.7 471.3ZM1043.7 466.7L1044.7 466.6L1044.7 471.0L1043.7 471.1ZM1045.5 466.5L1046.3 466.4L1046.3 470.8L1045.5 470.9ZM1046.9 466.4L1047.6 466.3L1047.6 470.7L1046.9 470.8ZM1048.1 466.3L1048.5 466.3L1048.5 470.7L1048.1 470.7ZM972.7 487.0L975.9 486.4L976.1 490.7L972.9 491.3ZM978.8 485.9L981.9 485.3L982.0 489.7L978.9 490.2ZM984.6 484.8L987.7 484.3L987.8 488.7L984.8 489.2ZM1010.7 480.3L1013.1 479.9L1013.1 484.3L1010.7 484.7ZM1015.2 479.6L1017.5 479.2L1017.5 483.6L1015.2 483.9ZM1019.5 478.9L1021.6 478.5L1021.5 482.9L1019.4 483.2ZM1023.4 478.2L1025.4 477.9L1025.4 482.3L1023.4 482.6ZM1027.2 477.6L1029.0 477.3L1028.9 481.7L1027.1 482.0ZM1030.6 477.1L1032.3 476.8L1032.2 481.2L1030.5 481.5ZM1033.8 476.6L1035.4 476.4L1035.2 480.8L1033.7 481.0ZM1036.7 476.2L1038.1 476.0L1038.0 480.4L1036.6 480.6ZM1039.3 475.9L1040.6 475.7L1040.4 480.1L1039.2 480.3ZM1041.6 475.6L1042.7 475.4L1042.6 479.8L1041.5 480.0ZM1043.7 475.3L1044.6 475.2L1044.4 479.6L1043.5 479.7ZM1045.4 475.1L1046.2 475.1L1046.0 479.5L1045.2 479.5ZM1046.8 475.0L1047.5 475.0L1047.3 479.4L1046.7 479.4ZM1010.6 488.9L1013.0 488.5L1012.9 492.8L1010.5 493.2ZM1015.1 488.1L1017.4 487.8L1017.2 492.1L1014.9 492.5ZM1019.3 487.4L1021.4 487.1L1021.2 491.5L1019.1 491.8ZM1023.3 486.8L1025.2 486.5L1025.0 490.9L1023.0 491.2ZM1026.9 486.2L1028.8 485.9L1028.5 490.3L1026.7 490.6ZM1030.4 485.7L1032.1 485.4L1031.8 489.8L1030.1 490.1ZM1033.5 485.2L1035.1 485.0L1034.8 489.4L1033.2 489.6ZM1036.4 484.8L1037.8 484.6L1037.5 489.0L1036.1 489.2ZM1043.3 483.9L1044.2 483.8L1043.9 488.2L1042.9 488.3ZM1010.3 497.4L1012.7 497.0L1012.4 501.3L1010.0 501.7ZM1014.7 496.7L1016.9 496.3L1016.6 500.6L1014.4 501.0ZM1018.9 496.0L1021.0 495.6L1020.6 500.0L1018.5 500.3ZM1022.8 495.4L1024.7 495.0L1024.3 499.4L1022.4 499.7ZM1026.4 494.8L1028.2 494.5L1027.8 498.8L1026.0 499.1ZM1029.8 494.3L1031.5 494.0L1031.0 498.4L1029.4 498.6ZM1032.9 493.8L1034.4 493.6L1034.0 497.9L1032.5 498.2ZM1035.7 493.4L1037.1 493.2L1036.6 497.6L1035.3 497.8ZM1042.5 492.5L1043.5 492.4L1043.0 496.8L1042.0 496.9ZM1009.7 505.9L1012.0 505.5L1011.6 509.8L1009.3 510.2ZM1014.0 505.1L1016.2 504.8L1015.7 509.1L1013.6 509.4ZM1018.1 504.5L1020.2 504.1L1019.7 508.4L1017.6 508.8ZM1022.0 503.8L1023.9 503.5L1023.4 507.9L1021.5 508.2ZM1025.6 503.3L1027.4 503.0L1026.8 507.3L1025.0 507.6ZM1028.9 502.8L1030.6 502.5L1030.0 506.8L1028.3 507.1ZM1032.0 502.3L1033.5 502.1L1032.9 506.4L1031.4 506.6ZM1034.8 501.9L1036.1 501.7L1035.5 506.0L1034.1 506.2ZM1037.3 501.6L1038.5 501.4L1037.9 505.7L1036.7 505.9ZM1039.5 501.3L1040.6 501.1L1039.9 505.5L1038.9 505.6ZM1041.5 501.0L1042.4 500.9L1041.7 505.3L1040.8 505.4ZM1013.1 513.5L1015.2 513.2L1014.6 517.4L1012.5 517.8ZM1017.1 512.9L1019.1 512.5L1018.5 516.8L1016.5 517.1ZM1020.9 512.2L1022.8 511.9L1022.1 516.2L1020.2 516.5ZM1024.4 511.7L1026.2 511.4L1025.5 515.7L1023.7 516.0ZM1027.7 511.2L1029.3 510.9L1028.6 515.2L1027.0 515.5ZM1030.7 510.7L1032.2 510.5L1031.5 514.8L1030.0 515.0ZM1038.2 509.7L1039.2 509.6L1038.4 513.9L1037.4 514.0ZM1011.8 521.8L1014.0 521.5L1013.2 525.7L1011.1 526.1ZM1015.8 521.2L1017.8 520.8L1017.0 525.1L1015.0 525.4ZM1019.5 520.6L1021.4 520.3L1020.6 524.5L1018.7 524.8ZM1023.0 520.0L1024.7 519.7L1023.9 524.0L1022.2 524.3ZM1026.2 519.5L1027.8 519.3L1026.9 523.5L1025.4 523.8ZM1029.2 519.1L1030.7 518.9L1029.7 523.1L1028.3 523.3ZM1031.9 518.7L1033.2 518.5L1032.3 522.8L1031.0 523.0ZM1034.4 518.4L1035.5 518.2L1034.6 522.5L1033.4 522.6ZM1036.5 518.1L1037.6 518.0L1036.6 522.2L1035.5 522.4ZM1038.4 517.9L1039.3 517.8L1038.3 522.0L1037.4 522.1ZM1014.2 529.4L1016.2 529.1L1015.2 533.3L1013.3 533.6ZM1017.9 528.8L1019.7 528.5L1018.7 532.7L1016.9 533.0ZM1021.3 528.3L1023.0 528.0L1022.0 532.2L1020.3 532.5ZM1024.5 527.8L1026.0 527.5L1025.0 531.7L1023.4 532.0ZM1027.4 527.3L1028.8 527.1L1027.7 531.3L1026.3 531.5ZM1030.0 527.0L1031.3 526.8L1030.2 531.0L1028.9 531.2ZM1032.4 526.6L1033.6 526.5L1032.5 530.7L1031.3 530.8ZM1036.4 526.1L1037.3 526.0L1036.1 530.3L1035.3 530.4ZM1008.5 538.1L1010.6 537.8L1009.5 541.9L1007.5 542.2ZM1012.3 537.5L1014.3 537.2L1013.2 541.3L1011.3 541.6ZM1015.9 536.9L1017.7 536.6L1016.6 540.8L1014.8 541.1ZM1019.3 536.4L1020.9 536.1L1019.8 540.3L1018.1 540.5ZM1022.4 535.9L1023.9 535.7L1022.7 539.8L1021.2 540.1ZM1025.2 535.5L1026.6 535.3L1025.4 539.4L1024.0 539.6ZM1027.8 535.1L1029.1 534.9L1027.9 539.1L1026.6 539.3ZM1030.2 534.8L1031.3 534.6L1030.0 538.8L1028.9 539.0ZM1032.3 534.5L1033.3 534.4L1032.0 538.6L1031.0 538.7ZM1034.1 534.3L1035.0 534.2L1033.6 538.4L1032.8 538.5ZM1035.7 534.1L1036.4 534.1L1035.0 538.3L1034.3 538.3ZM1006.5 546.1L1008.5 545.7L1007.3 549.8L1005.3 550.2ZM1010.2 545.5L1012.1 545.2L1010.9 549.2L1009.0 549.5ZM1013.7 544.9L1015.5 544.6L1014.2 548.7L1012.5 549.0ZM1017.0 544.4L1018.6 544.1L1017.3 548.2L1015.7 548.5ZM1020.0 543.9L1021.5 543.7L1020.2 547.8L1018.7 548.0ZM1022.8 543.5L1024.2 543.3L1022.8 547.4L1021.4 547.6ZM1025.4 543.1L1026.6 543.0L1025.2 547.1L1024.0 547.2ZM1027.7 542.8L1028.8 542.7L1027.3 546.8L1026.2 546.9ZM1029.7 542.6L1030.7 542.4L1029.2 546.6L1028.2 546.7ZM1036.0 542.1L1036.3 542.1L1034.8 546.2L1034.5 546.2ZM1004.2 553.9L1006.1 553.6L1004.8 557.6L1002.9 557.9ZM1007.8 553.3L1009.6 553.0L1008.3 557.0L1006.5 557.3ZM1011.2 552.8L1012.9 552.5L1011.5 556.5L1009.8 556.8ZM1014.4 552.3L1016.0 552.0L1014.6 556.0L1013.0 556.3ZM1017.4 551.8L1018.9 551.6L1017.4 555.6L1015.9 555.8ZM1020.1 551.4L1021.5 551.2L1019.9 555.2L1018.6 555.4ZM1022.6 551.0L1023.8 550.9L1022.2 554.9L1021.0 555.1ZM1024.8 550.7L1025.9 550.6L1024.3 554.6L1023.2 554.8ZM1033.0 550.0L1033.3 550.0L1031.6 554.1L1031.3 554.0ZM1005.2 561.0L1006.9 560.7L1005.4 564.7L1003.7 565.0ZM1008.5 560.5L1010.2 560.2L1008.6 564.2L1006.9 564.4ZM1011.6 560.0L1013.1 559.7L1011.5 563.7L1010.0 563.9ZM1014.5 559.5L1015.9 559.3L1014.3 563.3L1012.8 563.5ZM1017.1 559.1L1018.4 559.0L1016.7 562.9L1015.5 563.1ZM1019.5 558.8L1020.7 558.6L1019.0 562.6L1017.8 562.8ZM1021.7 558.5L1022.8 558.4L1021.0 562.3L1020.0 562.5ZM1029.0 557.8L1029.4 557.8L1027.5 561.8L1027.1 561.8ZM1002.2 568.6L1004.0 568.3L1002.3 572.1L1000.6 572.4ZM1005.5 568.0L1007.1 567.8L1005.4 571.7L1003.8 571.9ZM1008.5 567.6L1010.0 567.3L1008.3 571.2L1006.8 571.4ZM1011.3 567.1L1012.7 566.9L1010.9 570.8L1009.5 571.0ZM1013.9 566.7L1015.1 566.6L1013.3 570.5L1012.1 570.6ZM1016.2 566.4L1017.4 566.2L1015.5 570.2L1014.4 570.3ZM1018.3 566.1L1019.4 566.0L1017.5 569.9L1016.5 570.0ZM1020.2 565.9L1021.1 565.8L1019.2 569.7L1018.3 569.8ZM1025.4 565.4L1025.7 565.4L1023.8 569.3L1023.4 569.3ZM999.1 575.9L1000.8 575.7L999.0 579.4L997.3 579.7ZM1002.2 575.4L1003.8 575.2L1001.9 579.0L1000.4 579.2ZM1005.1 575.0L1006.6 574.7L1004.7 578.5L1003.3 578.8ZM1007.8 574.5L1009.2 574.3L1007.3 578.2L1005.9 578.4ZM1010.3 574.2L1011.6 574.0L1009.6 577.8L1008.4 578.0ZM1012.6 573.8L1013.7 573.7L1011.7 577.5L1010.6 577.7ZM1014.7 573.6L1015.7 573.4L1013.6 577.3L1012.6 577.4ZM998.7 582.6L1000.2 582.4L998.2 586.1L996.8 586.3ZM1001.5 582.2L1002.9 582.0L1000.9 585.7L999.5 585.9ZM1004.1 581.8L1005.4 581.6L1003.4 585.3L1002.1 585.5ZM1006.6 581.4L1007.7 581.3L1005.6 585.0L1004.5 585.2ZM1008.8 581.1L1009.8 581.0L1007.7 584.7L1006.6 584.9ZM994.9 589.7L996.4 589.4L994.3 593.1L992.9 593.3ZM997.7 589.2L999.0 589.0L996.9 592.7L995.5 592.9ZM1000.2 588.9L1001.4 588.7L999.3 592.3L998.0 592.5ZM1002.5 588.5L1003.7 588.3L1001.4 592.0L1000.3 592.1ZM1004.6 588.2L1005.7 588.1L1003.4 591.7L1002.4 591.8ZM993.6 596.1L994.9 595.9L992.6 599.4L991.3 599.6ZM996.0 595.7L997.2 595.5L994.9 599.1L993.7 599.3ZM998.2 595.4L999.3 595.2L997.0 598.8L995.9 598.9ZM901.0 268.8L902.1 268.6L905.7 270.4L904.5 270.6ZM902.9 268.5L904.0 268.3L907.7 270.1L906.6 270.2ZM904.8 268.2L905.8 268.0L909.5 269.8L908.5 269.9ZM906.5 267.9L907.4 267.8L911.2 269.5L910.3 269.7ZM905.5 272.6L906.7 272.4L910.3 274.3L908.9 274.5ZM907.7 272.2L908.9 272.0L912.5 274.0L911.2 274.2ZM909.8 271.9L910.9 271.7L914.6 273.6L913.4 273.8ZM911.8 271.6L912.8 271.4L916.5 273.3L915.4 273.5ZM913.6 271.3L914.5 271.2L918.3 273.1L917.3 273.2ZM915.2 271.1L916.1 270.9L919.9 272.9L919.0 273.0ZM916.8 270.9L917.6 270.8L921.4 272.7L920.5 272.8ZM918.1 270.7L918.8 270.6L922.7 272.5L922.0 272.6ZM919.3 270.5L920.0 270.5L923.8 272.4L923.2 272.4ZM920.4 270.4L920.9 270.4L924.8 272.3L924.3 272.3ZM921.3 270.3L921.8 270.3L925.7 272.2L925.2 272.2ZM922.1 270.3L922.4 270.3L926.4 272.1L926.0 272.2ZM909.5 276.7L910.9 276.5L914.3 278.6L912.8 278.8ZM912.0 276.3L913.3 276.1L916.8 278.2L915.4 278.4ZM914.3 275.9L915.6 275.7L919.1 277.8L917.8 278.0ZM916.5 275.6L917.7 275.4L921.3 277.5L920.1 277.7ZM918.6 275.3L919.7 275.1L923.3 277.2L922.2 277.3ZM920.5 275.0L921.5 274.8L925.2 276.9L924.1 277.1ZM922.3 274.7L923.2 274.6L926.9 276.7L925.9 276.8ZM923.9 274.5L924.7 274.4L928.4 276.5L927.6 276.6ZM925.3 274.3L926.0 274.2L929.8 276.3L929.1 276.4ZM926.6 274.2L927.2 274.1L931.0 276.1L930.4 276.2ZM927.7 274.0L928.3 274.0L932.1 276.0L931.5 276.1ZM928.6 274.0L929.1 273.9L933.0 276.0L932.5 276.0ZM929.4 273.9L929.8 273.9L933.7 275.9L933.3 275.9ZM930.1 273.9L930.3 273.9L934.2 275.9L933.9 275.9ZM930.5 273.9L930.7 273.9L934.6 275.9L934.4 275.9ZM913.0 281.2L914.6 281.0L917.9 283.2L916.2 283.5ZM915.8 280.8L917.3 280.5L920.6 282.8L919.1 283.0ZM923.2 279.6L924.4 279.4L927.9 281.6L926.6 281.8ZM925.3 279.2L926.5 279.1L930.0 281.3L928.8 281.5ZM932.3 278.2L933.1 278.1L936.8 280.3L936.0 280.4ZM933.7 278.1L934.4 278.0L938.1 280.2L937.4 280.3ZM934.8 278.0L935.4 277.9L939.2 280.1L938.6 280.1ZM935.8 277.9L936.3 277.8L940.1 280.0L939.6 280.0ZM936.7 277.8L937.1 277.8L940.8 280.0L940.4 280.0ZM937.3 277.8L937.6 277.8L941.4 280.0L941.1 280.0ZM937.8 277.8L938.0 277.8L941.8 280.0L941.6 280.0ZM919.1 285.5L920.7 285.3L923.9 287.7L922.2 288.0ZM921.9 285.1L923.5 284.8L926.8 287.2L925.2 287.5ZM929.7 283.8L931.0 283.6L934.4 286.0L933.1 286.2ZM931.9 283.5L933.1 283.3L936.6 285.7L935.4 285.8ZM934.0 283.2L935.1 283.0L938.6 285.4L937.5 285.5ZM937.7 282.6L938.6 282.5L942.2 284.9L941.2 285.0ZM939.2 282.4L940.0 282.3L943.7 284.7L942.8 284.8ZM940.6 282.3L941.3 282.2L945.0 284.5L944.3 284.6ZM941.8 282.1L942.5 282.1L946.1 284.4L945.5 284.5ZM942.9 282.0L943.4 282.0L947.1 284.3L946.6 284.4ZM943.7 282.0L944.2 282.0L947.9 284.3L947.4 284.3ZM944.4 282.0L944.7 282.0L948.5 284.3L948.1 284.3ZM944.9 282.0L945.1 282.0L948.9 284.3L948.7 284.3ZM918.5 291.2L920.4 290.9L923.4 293.5L921.5 293.8ZM921.8 290.7L923.6 290.4L926.7 292.9L924.9 293.2ZM925.0 290.1L926.7 289.9L929.8 292.4L928.1 292.7ZM928.0 289.6L929.6 289.4L932.8 291.9L931.1 292.2ZM933.5 288.7L935.0 288.5L938.2 291.0L936.8 291.3ZM940.5 287.7L941.7 287.5L945.1 290.0L943.9 290.2ZM944.3 287.1L945.3 287.0L948.8 289.5L947.8 289.6ZM946.0 286.9L946.8 286.8L950.3 289.3L949.5 289.4ZM947.4 286.7L948.2 286.6L951.7 289.1L951.0 289.2ZM948.7 286.6L949.3 286.5L952.9 289.0L952.3 289.1ZM949.8 286.5L950.3 286.5L953.9 288.9L953.4 289.0ZM950.7 286.4L951.1 286.4L954.7 288.9L954.3 288.9ZM951.4 286.4L951.7 286.4L955.3 288.9L955.0 288.9ZM951.9 286.4L952.1 286.4L955.7 288.9L955.5 288.9ZM920.5 296.8L922.5 296.4L925.4 299.1L923.3 299.5ZM924.1 296.1L926.0 295.8L929.0 298.5L927.0 298.8ZM927.5 295.5L929.4 295.2L932.4 297.9L930.4 298.2ZM930.8 295.0L932.6 294.7L935.6 297.4L933.8 297.7ZM939.6 293.5L941.1 293.3L944.3 295.9L942.8 296.2ZM942.2 293.1L943.6 292.9L946.9 295.6L945.4 295.8ZM944.6 292.8L945.9 292.6L949.2 295.2L947.9 295.4ZM949.0 292.1L950.1 292.0L953.4 294.6L952.3 294.7ZM950.8 291.9L951.8 291.7L955.2 294.3L954.2 294.5ZM952.5 291.6L953.4 291.5L956.9 294.1L956.0 294.3ZM954.0 291.5L954.8 291.4L958.3 294.0L957.5 294.1ZM955.4 291.3L956.0 291.2L959.5 293.9L958.8 293.9ZM956.5 291.2L957.0 291.2L960.5 293.8L960.0 293.8ZM957.4 291.1L957.9 291.1L961.4 293.7L960.9 293.7ZM958.2 291.1L958.5 291.1L962.0 293.7L961.7 293.7ZM958.7 291.1L958.9 291.2L962.4 293.8L962.2 293.7ZM925.8 301.9L927.9 301.5L930.7 304.4L928.5 304.8ZM929.5 301.3L931.5 300.9L934.4 303.7L932.3 304.1ZM933.0 300.7L935.0 300.3L937.9 303.1L935.9 303.5ZM936.4 300.1L938.3 299.8L941.2 302.6L939.3 302.9ZM939.6 299.6L941.4 299.3L944.4 302.1L942.6 302.4ZM948.3 298.2L949.7 297.9L952.9 300.7L951.4 300.9ZM950.8 297.8L952.1 297.6L955.3 300.3L954.0 300.5ZM953.1 297.4L954.3 297.2L957.6 300.0L956.3 300.2ZM955.2 297.1L956.4 297.0L959.6 299.7L958.5 299.9ZM957.2 296.9L958.2 296.7L961.5 299.5L960.5 299.6ZM960.5 296.4L961.3 296.3L964.7 299.1L963.9 299.2ZM961.9 296.3L962.5 296.2L965.9 299.0L965.2 299.0ZM963.0 296.2L963.6 296.1L967.0 298.9L966.4 298.9ZM964.0 296.1L964.4 296.1L967.9 298.8L967.4 298.8ZM964.7 296.1L965.1 296.1L968.5 298.8L968.2 298.8ZM965.3 296.1L965.5 296.1L969.0 298.9L968.7 298.8ZM914.1 310.3L916.6 309.8L919.0 312.8L916.5 313.3ZM941.9 305.4L943.8 305.1L946.7 308.0L944.8 308.4ZM945.2 304.9L947.0 304.6L950.0 307.5L948.1 307.8ZM951.3 303.9L952.9 303.6L956.0 306.5L954.3 306.8ZM954.1 303.4L955.6 303.2L958.7 306.1L957.2 306.3ZM956.7 303.0L958.1 302.8L961.2 305.7L959.8 305.9ZM959.1 302.7L960.4 302.5L963.6 305.4L962.3 305.6ZM961.3 302.4L962.5 302.2L965.7 305.1L964.5 305.3ZM963.3 302.1L964.4 301.9L967.6 304.8L966.5 305.0ZM965.2 301.9L966.1 301.7L969.3 304.6L968.4 304.7ZM966.8 301.7L967.6 301.6L970.9 304.4L970.0 304.5ZM968.2 301.5L968.9 301.4L972.2 304.3L971.4 304.4ZM969.4 301.4L970.0 301.3L973.3 304.2L972.7 304.3ZM970.4 301.3L970.8 301.3L974.1 304.2L973.7 304.2ZM971.1 301.3L971.5 301.3L974.8 304.2L974.5 304.2ZM971.7 301.3L972.0 301.3L975.3 304.2L975.0 304.2ZM918.6 316.0L921.2 315.6L923.6 318.7L920.9 319.2ZM923.1 315.2L925.7 314.8L928.1 317.9L925.5 318.3ZM943.6 311.6L945.7 311.3L948.4 314.3L946.3 314.7ZM957.0 309.4L958.6 309.2L961.5 312.2L959.9 312.4ZM959.8 309.0L961.4 308.7L964.3 311.7L962.8 312.0ZM962.5 308.6L963.9 308.3L966.9 311.4L965.5 311.6ZM965.0 308.2L966.3 308.0L969.3 311.0L968.0 311.2ZM967.2 307.9L968.4 307.7L971.5 310.7L970.3 310.9ZM969.3 307.6L970.4 307.4L973.5 310.4L972.4 310.6ZM971.2 307.3L972.1 307.2L975.3 310.2L974.3 310.3ZM972.8 307.1L973.7 307.0L976.8 310.0L976.0 310.1ZM974.3 307.0L975.0 306.9L978.2 309.9L977.4 310.0ZM975.5 306.8L976.1 306.8L979.3 309.8L978.7 309.8ZM976.5 306.8L977.0 306.8L980.2 309.7L979.7 309.8ZM977.3 306.7L977.7 306.8L980.9 309.7L980.6 309.7ZM977.9 306.8L978.2 306.8L981.4 309.8L981.2 309.8ZM978.3 306.8L978.4 306.9L981.7 309.9L981.5 309.8ZM918.1 322.8L920.9 322.3L923.1 325.6L920.3 326.1ZM927.6 321.1L930.2 320.7L932.6 323.9L930.0 324.4ZM948.7 317.4L950.8 317.1L953.5 320.3L951.3 320.6ZM952.4 316.8L954.4 316.5L957.1 319.6L955.1 320.0ZM955.9 316.2L957.8 315.9L960.6 319.1L958.6 319.4ZM959.2 315.7L961.1 315.4L963.8 318.5L962.0 318.8ZM962.4 315.2L964.1 314.9L966.9 318.1L965.2 318.3ZM965.3 314.7L966.9 314.5L969.8 317.6L968.2 317.9ZM968.1 314.3L969.5 314.1L972.5 317.2L971.0 317.4ZM970.6 313.9L972.0 313.7L974.9 316.8L973.5 317.0ZM973.0 313.6L974.2 313.4L977.2 316.5L975.9 316.7ZM975.1 313.3L976.2 313.1L979.2 316.3L978.1 316.4ZM977.0 313.0L978.0 312.9L981.0 316.0L980.0 316.1ZM978.7 312.8L979.6 312.7L982.6 315.8L981.7 315.9ZM980.2 312.7L980.9 312.6L984.0 315.7L983.2 315.8ZM981.5 312.5L982.1 312.5L985.2 315.6L984.5 315.7ZM982.5 312.5L983.0 312.4L986.1 315.6L985.6 315.6ZM983.3 312.4L983.7 312.4L986.8 315.6L986.4 315.5ZM983.9 312.4L984.2 312.5L987.3 315.6L987.0 315.6ZM984.3 312.5L984.4 312.6L987.6 315.7L987.4 315.6ZM932.0 327.3L934.7 326.8L937.0 330.1L934.3 330.6ZM936.7 326.4L939.2 326.0L941.6 329.3L939.0 329.8ZM949.6 324.2L951.9 323.8L954.4 327.1L952.1 327.5ZM953.6 323.5L955.8 323.1L958.3 326.4L956.1 326.8ZM957.4 322.8L959.5 322.5L962.1 325.8L960.0 326.1ZM961.0 322.2L963.0 321.9L965.6 325.2L963.6 325.5ZM964.4 321.7L966.3 321.4L969.0 324.6L967.1 324.9ZM967.6 321.2L969.4 320.9L972.1 324.1L970.3 324.4ZM970.6 320.7L972.3 320.4L975.0 323.7L973.4 323.9ZM973.5 320.2L975.0 320.0L977.8 323.3L976.2 323.5ZM976.1 319.9L977.5 319.7L980.3 322.9L978.9 323.1ZM978.5 319.5L979.7 319.3L982.6 322.6L981.3 322.8ZM980.6 319.2L981.8 319.1L984.7 322.3L983.5 322.5ZM982.6 319.0L983.6 318.8L986.5 322.1L985.5 322.2ZM984.4 318.7L985.2 318.6L988.2 321.9L987.3 322.0ZM985.9 318.6L986.6 318.5L989.6 321.7L988.8 321.8ZM987.2 318.5L987.8 318.4L990.8 321.6L990.1 321.7ZM988.3 318.4L988.8 318.4L991.7 321.6L991.2 321.6ZM989.1 318.3L989.5 318.4L992.5 321.6L992.1 321.6ZM989.7 318.4L990.0 318.4L993.0 321.6L992.7 321.6ZM990.1 318.4L990.2 318.5L993.2 321.7L993.1 321.7ZM945.6 331.9L948.1 331.5L950.4 334.9L947.9 335.4ZM950.0 331.2L952.4 330.7L954.8 334.1L952.4 334.6ZM954.3 330.4L956.6 330.0L959.0 333.4L956.6 333.8ZM958.3 329.7L960.6 329.3L963.0 332.7L960.8 333.1ZM962.2 329.1L964.3 328.7L966.8 332.1L964.7 332.5ZM965.9 328.5L967.9 328.1L970.4 331.5L968.4 331.8ZM969.4 327.9L971.3 327.6L973.9 331.0L971.9 331.3ZM972.7 327.4L974.5 327.1L977.1 330.4L975.3 330.7ZM975.8 326.9L977.4 326.6L980.1 330.0L978.4 330.2ZM978.6 326.4L980.2 326.2L982.9 329.5L981.3 329.8ZM981.3 326.0L982.7 325.8L985.4 329.2L984.0 329.4ZM983.8 325.7L985.1 325.5L987.8 328.8L986.5 329.0ZM986.0 325.4L987.2 325.2L989.9 328.6L988.7 328.7ZM988.0 325.1L989.0 325.0L991.8 328.3L990.8 328.4ZM989.8 324.9L990.7 324.8L993.5 328.1L992.6 328.2ZM991.3 324.7L992.1 324.6L994.9 328.0L994.2 328.1ZM992.7 324.6L993.3 324.5L996.2 327.9L995.5 327.9ZM993.8 324.5L994.3 324.5L997.1 327.8L996.6 327.8ZM994.6 324.5L995.0 324.5L997.9 327.8L997.5 327.8ZM995.3 324.5L995.5 324.5L998.4 327.9L998.1 327.8ZM995.7 324.6L995.8 324.6L998.7 328.0L998.5 327.9ZM940.3 340.1L943.1 339.6L945.2 343.2L942.4 343.7ZM945.2 339.3L947.9 338.8L950.0 342.3L947.3 342.8ZM949.9 338.4L952.4 338.0L954.7 341.5L952.1 341.9ZM954.4 337.6L956.9 337.2L959.1 340.7L956.6 341.2ZM958.7 336.9L961.1 336.5L963.4 340.0L961.0 340.4ZM962.9 336.2L965.1 335.8L967.5 339.3L965.2 339.7ZM966.8 335.5L969.0 335.1L971.4 338.6L969.2 339.0ZM970.6 334.9L972.6 334.5L975.1 338.0L973.0 338.4ZM974.2 334.3L976.1 334.0L978.6 337.5L976.6 337.8ZM977.5 333.7L979.3 333.5L981.8 336.9L980.0 337.2ZM980.7 333.3L982.4 333.0L984.9 336.5L983.2 336.7ZM983.6 332.8L985.2 332.6L987.8 336.0L986.2 336.3ZM986.3 332.4L987.8 332.2L990.4 335.6L988.9 335.9ZM988.8 332.0L990.2 331.8L992.8 335.3L991.4 335.5ZM991.1 331.7L992.3 331.6L994.9 335.0L993.7 335.2ZM993.2 331.4L994.2 331.3L996.9 334.8L995.8 334.9ZM995.0 331.2L995.9 331.1L998.6 334.6L997.7 334.7ZM996.6 331.1L997.4 331.0L1000.1 334.4L999.3 334.5ZM997.9 330.9L998.6 330.9L1001.3 334.3L1000.6 334.4ZM999.1 330.8L999.6 330.8L1002.3 334.3L1001.8 334.3ZM1000.0 330.8L1000.4 330.8L1003.1 334.3L1002.7 334.3ZM1000.6 330.8L1000.9 330.9L1003.6 334.3L1003.3 334.3ZM1001.0 330.9L1001.1 331.0L1003.9 334.4L1003.7 334.3ZM949.2 345.9L951.9 345.5L954.0 349.1L951.2 349.6ZM954.0 345.1L956.6 344.6L958.7 348.3L956.1 348.7ZM958.6 344.3L961.1 343.9L963.3 347.5L960.7 347.9ZM963.0 343.5L965.4 343.1L967.6 346.7L965.2 347.1ZM967.2 342.8L969.5 342.4L971.8 346.0L969.4 346.4ZM971.3 342.1L973.5 341.8L975.7 345.3L973.5 345.7ZM978.7 340.9L980.7 340.6L983.1 344.2L981.1 344.5ZM982.2 340.3L984.0 340.0L986.4 343.6L984.5 343.9ZM985.4 339.8L987.1 339.6L989.5 343.1L987.8 343.4ZM988.4 339.4L990.0 339.1L992.4 342.7L990.8 342.9ZM991.1 339.0L992.6 338.7L995.1 342.3L993.6 342.5ZM998.1 338.0L999.2 337.9L1001.7 341.4L1000.6 341.5ZM1000.0 337.8L1000.9 337.7L1003.5 341.2L1002.5 341.3ZM1001.6 337.6L1002.4 337.5L1005.0 341.1L1004.1 341.1ZM1003.0 337.5L1003.6 337.4L1006.2 341.0L1005.5 341.0ZM1004.1 337.4L1004.7 337.4L1007.2 340.9L1006.7 340.9ZM1005.0 337.3L1005.4 337.4L1008.0 340.9L1007.6 340.9ZM948.0 353.7L950.9 353.2L952.8 356.9L949.9 357.4ZM953.0 352.8L955.8 352.3L957.8 356.0L955.0 356.5ZM957.9 352.0L960.6 351.5L962.6 355.2L959.9 355.7ZM962.6 351.1L965.1 350.7L967.2 354.4L964.6 354.8ZM967.1 350.4L969.5 349.9L971.6 353.6L969.2 354.1ZM971.4 349.6L973.7 349.2L975.9 352.9L973.5 353.3ZM975.5 348.9L977.7 348.6L979.9 352.2L977.6 352.6ZM986.6 347.1L988.5 346.8L990.7 350.5L988.8 350.8ZM989.8 346.6L991.6 346.3L993.9 350.0L992.1 350.3ZM992.9 346.1L994.5 345.9L996.8 349.5L995.2 349.8ZM1002.8 344.7L1003.9 344.6L1006.3 348.2L1005.2 348.4ZM1008.9 344.1L1009.5 344.1L1011.9 347.7L1011.4 347.7ZM1009.8 344.1L1010.2 344.1L1012.7 347.7L1012.3 347.7ZM1010.5 344.1L1010.8 344.1L1013.2 347.8L1013.0 347.7ZM1010.9 344.2L1011.1 344.2L1013.5 347.9L1013.4 347.8ZM940.8 362.7L943.9 362.1L945.7 366.0L942.6 366.5ZM946.3 361.7L949.3 361.2L951.1 365.0L948.1 365.5ZM951.6 360.8L954.5 360.3L956.3 364.1L953.4 364.6ZM956.7 359.9L959.5 359.4L961.4 363.2L958.6 363.7ZM975.3 356.6L977.7 356.2L979.8 360.0L977.3 360.4ZM983.5 355.3L985.6 354.9L987.7 358.7L985.5 359.0ZM990.8 354.1L992.7 353.8L994.8 357.5L992.9 357.8ZM994.1 353.5L995.9 353.3L998.0 357.0L996.2 357.3ZM997.2 353.1L998.8 352.8L1001.0 356.6L999.4 356.8ZM1005.1 351.9L1006.3 351.8L1008.6 355.5L1007.3 355.7ZM1007.2 351.6L1008.4 351.5L1010.6 355.2L1009.5 355.4ZM1009.2 351.4L1010.1 351.3L1012.4 355.0L1011.4 355.1ZM1013.5 351.0L1014.0 351.0L1016.3 354.7L1015.8 354.7ZM991.1 361.8L993.2 361.4L995.2 365.3L993.1 365.6ZM998.1 360.7L999.9 360.4L1001.9 364.2L1000.1 364.5ZM1004.1 359.7L1005.7 359.5L1007.8 363.3L1006.2 363.6ZM1006.8 359.3L1008.2 359.1L1010.3 363.0L1008.9 363.2ZM1009.2 359.0L1010.5 358.8L1012.6 362.7L1011.3 362.8ZM1011.4 358.7L1012.6 358.6L1014.7 362.4L1013.6 362.5ZM1013.4 358.5L1014.4 358.4L1016.5 362.2L1015.5 362.3ZM1015.1 358.3L1015.9 358.2L1018.1 362.0L1017.2 362.1ZM1016.5 358.2L1017.2 358.1L1019.4 361.9L1018.7 362.0ZM1017.7 358.1L1018.3 358.1L1020.5 361.9L1019.9 361.9Z"/>
</svg>
</body></html>
